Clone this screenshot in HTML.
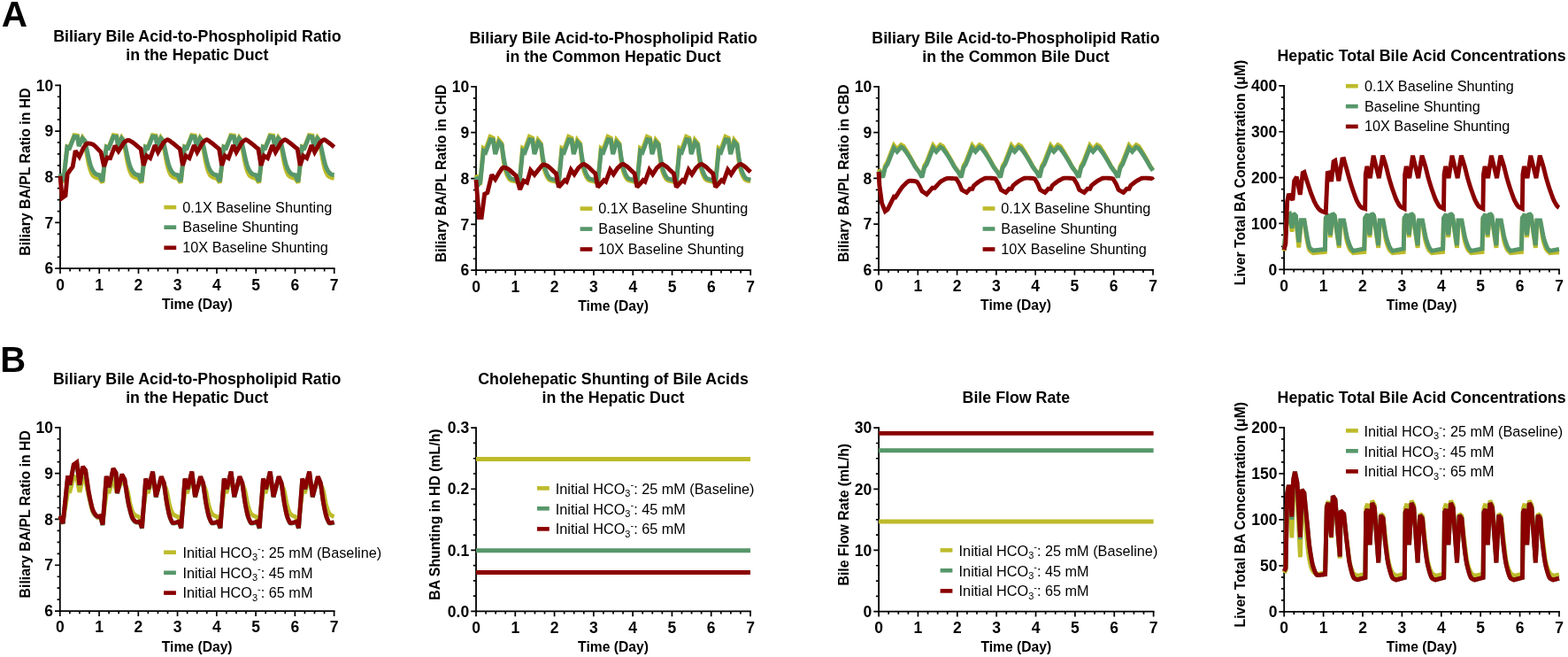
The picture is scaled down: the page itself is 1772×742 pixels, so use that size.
<!DOCTYPE html>
<html><head><meta charset="utf-8"><title>Figure</title>
<style>html,body{margin:0;padding:0;background:#fff;overflow:hidden;}svg{display:block;}</style>
</head><body>
<svg width="1772" height="742" viewBox="0 0 1772 742">
<rect width="1772" height="742" fill="#fff"/>
<text x="1.8" y="30.2" font-family="Liberation Sans, Arial, sans-serif" font-weight="bold" font-size="40.5">A</text>
<text x="0.2" y="419.8" font-family="Liberation Sans, Arial, sans-serif" font-weight="bold" font-size="40">B</text>
<g stroke="#000" stroke-width="1.8" fill="none" stroke-linecap="square">
<path d="M68 96.3 V303.2 H377.7"/>
</g>
<g stroke="#000" stroke-width="1.7" fill="none">
<path d="M68 303.2 v5.8 M79.06 303.2 v3.2 M90.12 303.2 v3.2 M101.18 303.2 v3.2 M112.24 303.2 v5.8 M123.3 303.2 v3.2 M134.36 303.2 v3.2 M145.43 303.2 v3.2 M156.49 303.2 v5.8 M167.55 303.2 v3.2 M178.61 303.2 v3.2 M189.67 303.2 v3.2 M200.73 303.2 v5.8 M211.79 303.2 v3.2 M222.85 303.2 v3.2 M233.91 303.2 v3.2 M244.97 303.2 v5.8 M256.03 303.2 v3.2 M267.09 303.2 v3.2 M278.15 303.2 v3.2 M289.21 303.2 v5.8 M300.27 303.2 v3.2 M311.34 303.2 v3.2 M322.4 303.2 v3.2 M333.46 303.2 v5.8 M344.52 303.2 v3.2 M355.58 303.2 v3.2 M366.64 303.2 v3.2 M377.7 303.2 v5.8 M68 303.2 h-5.8 M68 290.27 h-3.2 M68 277.34 h-3.2 M68 264.41 h-3.2 M68 251.47 h-5.8 M68 238.54 h-3.2 M68 225.61 h-3.2 M68 212.68 h-3.2 M68 199.75 h-5.8 M68 186.82 h-3.2 M68 173.89 h-3.2 M68 160.96 h-3.2 M68 148.03 h-5.8 M68 135.09 h-3.2 M68 122.16 h-3.2 M68 109.23 h-3.2 M68 96.3 h-5.8"/>
</g>
<g fill="none" stroke-width="4.9" stroke-linejoin="miter" stroke-miterlimit="2.2" stroke-linecap="butt">
<path d="M68 197.16 L71.54 206.47 L75.96 165.61 L78.62 166.65 L83.93 152.68 L87.47 153.2 L89.24 164.06 L93.22 155.27 L95.87 159.4 L96.24 161.87 L96.61 164.4 L96.98 166.93 L97.35 169.39 L97.72 171.73 L98.09 173.89 L98.68 177.13 L99.26 180.29 L99.85 183.29 L100.44 186.03 L101.03 188.44 L101.62 190.44 L102.21 192.16 L102.8 193.77 L103.39 195.22 L103.98 196.47 L104.57 197.48 L105.16 198.2 L105.9 198.84 L106.64 199.4 L107.38 199.86 L108.11 200.24 L108.85 200.55 L109.59 200.78 L110.03 200.9 L110.47 200.99 L110.92 201.07 L111.36 201.15 L111.8 201.22 L112.24 201.3 L115.78 206.47 L120.21 165.61 L122.86 166.65 L128.17 152.68 L131.71 153.2 L133.48 164.06 L137.46 155.27 L140.12 159.4 L140.48 161.87 L140.85 164.4 L141.22 166.93 L141.59 169.39 L141.96 171.73 L142.33 173.89 L142.92 177.13 L143.51 180.29 L144.1 183.29 L144.69 186.03 L145.28 188.44 L145.87 190.44 L146.46 192.16 L147.05 193.77 L147.64 195.22 L148.23 196.47 L148.82 197.48 L149.41 198.2 L150.14 198.84 L150.88 199.4 L151.62 199.86 L152.36 200.24 L153.09 200.55 L153.83 200.78 L154.27 200.9 L154.72 200.99 L155.16 201.07 L155.6 201.15 L156.04 201.22 L156.49 201.3 L160.03 206.47 L164.45 165.61 L167.1 166.65 L172.41 152.68 L175.95 153.2 L177.72 164.06 L181.7 155.27 L184.36 159.4 L184.73 161.87 L185.1 164.4 L185.46 166.93 L185.83 169.39 L186.2 171.73 L186.57 173.89 L187.16 177.13 L187.75 180.29 L188.34 183.29 L188.93 186.03 L189.52 188.44 L190.11 190.44 L190.7 192.16 L191.29 193.77 L191.88 195.22 L192.47 196.47 L193.06 197.48 L193.65 198.2 L194.39 198.84 L195.12 199.4 L195.86 199.86 L196.6 200.24 L197.34 200.55 L198.07 200.78 L198.52 200.9 L198.96 200.99 L199.4 201.07 L199.84 201.15 L200.29 201.22 L200.73 201.3 L204.27 206.47 L208.69 165.61 L211.35 166.65 L216.66 152.68 L220.2 153.2 L221.97 164.06 L225.95 155.27 L228.6 159.4 L228.97 161.87 L229.34 164.4 L229.71 166.93 L230.08 169.39 L230.45 171.73 L230.81 173.89 L231.4 177.13 L231.99 180.29 L232.58 183.29 L233.17 186.03 L233.76 188.44 L234.35 190.44 L234.94 192.16 L235.53 193.77 L236.12 195.22 L236.71 196.47 L237.3 197.48 L237.89 198.2 L238.63 198.84 L239.37 199.4 L240.1 199.86 L240.84 200.24 L241.58 200.55 L242.32 200.78 L242.76 200.9 L243.2 200.99 L243.64 201.07 L244.09 201.15 L244.53 201.22 L244.97 201.3 L248.51 206.47 L252.94 165.61 L255.59 166.65 L260.9 152.68 L264.44 153.2 L266.21 164.06 L270.19 155.27 L272.84 159.4 L273.21 161.87 L273.58 164.4 L273.95 166.93 L274.32 169.39 L274.69 171.73 L275.06 173.89 L275.65 177.13 L276.24 180.29 L276.83 183.29 L277.42 186.03 L278.01 188.44 L278.6 190.44 L279.19 192.16 L279.78 193.77 L280.37 195.22 L280.96 196.47 L281.55 197.48 L282.14 198.2 L282.87 198.84 L283.61 199.4 L284.35 199.86 L285.08 200.24 L285.82 200.55 L286.56 200.78 L287 200.9 L287.44 200.99 L287.89 201.07 L288.33 201.15 L288.77 201.22 L289.21 201.3 L292.75 206.47 L297.18 165.61 L299.83 166.65 L305.14 152.68 L308.68 153.2 L310.45 164.06 L314.43 155.27 L317.09 159.4 L317.46 161.87 L317.82 164.4 L318.19 166.93 L318.56 169.39 L318.93 171.73 L319.3 173.89 L319.89 177.13 L320.48 180.29 L321.07 183.29 L321.66 186.03 L322.25 188.44 L322.84 190.44 L323.43 192.16 L324.02 193.77 L324.61 195.22 L325.2 196.47 L325.79 197.48 L326.38 198.2 L327.12 198.84 L327.85 199.4 L328.59 199.86 L329.33 200.24 L330.07 200.55 L330.8 200.78 L331.24 200.9 L331.69 200.99 L332.13 201.07 L332.57 201.15 L333.01 201.22 L333.46 201.3 L337 206.47 L341.42 165.61 L344.08 166.65 L349.38 152.68 L352.92 153.2 L354.69 164.06 L358.68 155.27 L361.33 159.4 L361.7 161.87 L362.07 164.4 L362.44 166.93 L362.8 169.39 L363.17 171.73 L363.54 173.89 L364.13 177.13 L364.72 180.29 L365.31 183.29 L365.9 186.03 L366.49 188.44 L367.08 190.44 L367.67 192.16 L368.26 193.77 L368.85 195.22 L369.44 196.47 L370.03 197.48 L370.62 198.2 L371.36 198.84 L372.1 199.4 L372.83 199.86 L373.57 200.24 L374.31 200.55 L375.05 200.78 L375.49 200.9 L375.93 200.99 L376.37 201.07 L376.82 201.15 L377.26 201.22 L377.7 201.3" stroke="#bdbb2a"/>
<path d="M68 196.13 L71.54 204.92 L75.96 166.13 L78.62 167.16 L83.93 154.23 L87.47 154.75 L89.24 165.09 L93.22 156.3 L95.87 158.89 L96.32 160.88 L96.76 162.88 L97.2 164.88 L97.64 166.87 L98.09 168.84 L98.53 170.78 L99.12 173.44 L99.71 176.18 L100.3 178.89 L100.89 181.47 L101.48 183.8 L102.07 185.78 L102.58 187.3 L103.1 188.72 L103.62 190.03 L104.13 191.21 L104.65 192.21 L105.16 193.03 L105.9 194 L106.64 194.9 L107.38 195.68 L108.11 196.34 L108.85 196.84 L109.59 197.16 L110.03 197.28 L110.47 197.38 L110.92 197.46 L111.36 197.53 L111.8 197.6 L112.24 197.68 L115.78 204.92 L120.21 166.13 L122.86 167.16 L128.17 154.23 L131.71 154.75 L133.48 165.09 L137.46 156.3 L140.12 158.89 L140.56 160.88 L141 162.88 L141.44 164.88 L141.89 166.87 L142.33 168.84 L142.77 170.78 L143.36 173.44 L143.95 176.18 L144.54 178.89 L145.13 181.47 L145.72 183.8 L146.31 185.78 L146.83 187.3 L147.34 188.72 L147.86 190.03 L148.37 191.21 L148.89 192.21 L149.41 193.03 L150.14 194 L150.88 194.9 L151.62 195.68 L152.36 196.34 L153.09 196.84 L153.83 197.16 L154.27 197.28 L154.72 197.38 L155.16 197.46 L155.6 197.53 L156.04 197.6 L156.49 197.68 L160.03 204.92 L164.45 166.13 L167.1 167.16 L172.41 154.23 L175.95 154.75 L177.72 165.09 L181.7 156.3 L184.36 158.89 L184.8 160.88 L185.24 162.88 L185.69 164.88 L186.13 166.87 L186.57 168.84 L187.01 170.78 L187.6 173.44 L188.19 176.18 L188.78 178.89 L189.37 181.47 L189.96 183.8 L190.55 185.78 L191.07 187.3 L191.59 188.72 L192.1 190.03 L192.62 191.21 L193.13 192.21 L193.65 193.03 L194.39 194 L195.12 194.9 L195.86 195.68 L196.6 196.34 L197.34 196.84 L198.07 197.16 L198.52 197.28 L198.96 197.38 L199.4 197.46 L199.84 197.53 L200.29 197.6 L200.73 197.68 L204.27 204.92 L208.69 166.13 L211.35 167.16 L216.66 154.23 L220.2 154.75 L221.97 165.09 L225.95 156.3 L228.6 158.89 L229.04 160.88 L229.49 162.88 L229.93 164.88 L230.37 166.87 L230.81 168.84 L231.26 170.78 L231.85 173.44 L232.44 176.18 L233.03 178.89 L233.62 181.47 L234.21 183.8 L234.8 185.78 L235.31 187.3 L235.83 188.72 L236.34 190.03 L236.86 191.21 L237.38 192.21 L237.89 193.03 L238.63 194 L239.37 194.9 L240.1 195.68 L240.84 196.34 L241.58 196.84 L242.32 197.16 L242.76 197.28 L243.2 197.38 L243.64 197.46 L244.09 197.53 L244.53 197.6 L244.97 197.68 L248.51 204.92 L252.94 166.13 L255.59 167.16 L260.9 154.23 L264.44 154.75 L266.21 165.09 L270.19 156.3 L272.84 158.89 L273.29 160.88 L273.73 162.88 L274.17 164.88 L274.61 166.87 L275.06 168.84 L275.5 170.78 L276.09 173.44 L276.68 176.18 L277.27 178.89 L277.86 181.47 L278.45 183.8 L279.04 185.78 L279.55 187.3 L280.07 188.72 L280.59 190.03 L281.1 191.21 L281.62 192.21 L282.14 193.03 L282.87 194 L283.61 194.9 L284.35 195.68 L285.08 196.34 L285.82 196.84 L286.56 197.16 L287 197.28 L287.44 197.38 L287.89 197.46 L288.33 197.53 L288.77 197.6 L289.21 197.68 L292.75 204.92 L297.18 166.13 L299.83 167.16 L305.14 154.23 L308.68 154.75 L310.45 165.09 L314.43 156.3 L317.09 158.89 L317.53 160.88 L317.97 162.88 L318.41 164.88 L318.86 166.87 L319.3 168.84 L319.74 170.78 L320.33 173.44 L320.92 176.18 L321.51 178.89 L322.1 181.47 L322.69 183.8 L323.28 185.78 L323.8 187.3 L324.31 188.72 L324.83 190.03 L325.35 191.21 L325.86 192.21 L326.38 193.03 L327.12 194 L327.85 194.9 L328.59 195.68 L329.33 196.34 L330.07 196.84 L330.8 197.16 L331.24 197.28 L331.69 197.38 L332.13 197.46 L332.57 197.53 L333.01 197.6 L333.46 197.68 L337 204.92 L341.42 166.13 L344.08 167.16 L349.38 154.23 L352.92 154.75 L354.69 165.09 L358.68 156.3 L361.33 158.89 L361.77 160.88 L362.21 162.88 L362.66 164.88 L363.1 166.87 L363.54 168.84 L363.98 170.78 L364.57 173.44 L365.16 176.18 L365.75 178.89 L366.34 181.47 L366.93 183.8 L367.52 185.78 L368.04 187.3 L368.56 188.72 L369.07 190.03 L369.59 191.21 L370.1 192.21 L370.62 193.03 L371.36 194 L372.1 194.9 L372.83 195.68 L373.57 196.34 L374.31 196.84 L375.05 197.16 L375.49 197.28 L375.93 197.38 L376.37 197.46 L376.82 197.53 L377.26 197.6 L377.7 197.68" stroke="#57976a"/>
<path d="M68 198.72 L70.21 223.54 L73.97 220.96 L76.18 196.65 L78.62 193.03 L82.16 188.37 L85.25 170.27 L89.68 176.99 L94.55 166.65 L95.28 165.76 L96.02 164.75 L96.76 163.74 L97.5 162.85 L98.23 162.23 L98.97 161.99 L99.71 162.01 L100.44 162.06 L101.18 162.15 L101.92 162.25 L102.66 162.37 L103.39 162.51 L105.16 163.21 L106.93 164.53 L108.7 166.25 L110.47 168.17 L112.24 170.1 L114.01 171.82 L117.55 187.85 L121.09 178.03 L124.63 178.54 L129.94 164.58 L133.92 170.78 L140.56 160.44 L141.3 160.05 L142.03 159.6 L142.77 159.15 L143.51 158.75 L144.25 158.48 L144.98 158.37 L145.72 158.46 L146.46 158.72 L147.19 159.08 L147.93 159.52 L148.67 159.99 L149.41 160.44 L150.59 161.2 L151.77 162.1 L152.95 163.09 L154.13 164.11 L155.31 165.14 L156.49 166.13 L159.14 168.2 L162.24 186.82 L165.78 175.96 L169.76 178.54 L175.07 164.06 L178.61 171.82 L184.8 160.96 L185.54 160.37 L186.28 159.69 L187.01 159.02 L187.75 158.43 L188.49 158.01 L189.23 157.85 L189.96 157.98 L190.7 158.3 L191.44 158.78 L192.17 159.33 L192.91 159.9 L193.65 160.44 L194.83 161.28 L196.01 162.19 L197.19 163.16 L198.37 164.16 L199.55 165.16 L200.73 166.13 L203.38 168.2 L206.48 186.82 L210.02 175.96 L214 178.54 L219.31 164.06 L222.85 171.82 L229.04 160.96 L229.78 160.37 L230.52 159.69 L231.26 159.02 L231.99 158.43 L232.73 158.01 L233.47 157.85 L234.21 157.98 L234.94 158.3 L235.68 158.78 L236.42 159.33 L237.16 159.9 L237.89 160.44 L239.07 161.28 L240.25 162.19 L241.43 163.16 L242.61 164.16 L243.79 165.16 L244.97 166.13 L247.63 168.2 L250.72 186.82 L254.26 175.96 L258.24 178.54 L263.55 164.06 L267.09 171.82 L273.29 160.96 L274.02 160.37 L274.76 159.69 L275.5 159.02 L276.24 158.43 L276.97 158.01 L277.71 157.85 L278.45 157.98 L279.19 158.3 L279.92 158.78 L280.66 159.33 L281.4 159.9 L282.14 160.44 L283.32 161.28 L284.5 162.19 L285.67 163.16 L286.85 164.16 L288.03 165.16 L289.21 166.13 L291.87 168.2 L294.97 186.82 L298.51 175.96 L302.49 178.54 L307.8 164.06 L311.34 171.82 L317.53 160.96 L318.27 160.37 L319 159.69 L319.74 159.02 L320.48 158.43 L321.22 158.01 L321.95 157.85 L322.69 157.98 L323.43 158.3 L324.17 158.78 L324.9 159.33 L325.64 159.9 L326.38 160.44 L327.56 161.28 L328.74 162.19 L329.92 163.16 L331.1 164.16 L332.28 165.16 L333.46 166.13 L336.11 168.2 L339.21 186.82 L342.75 175.96 L346.73 178.54 L352.04 164.06 L355.58 171.82 L361.77 160.96 L362.51 160.37 L363.25 159.69 L363.98 159.02 L364.72 158.43 L365.46 158.01 L366.2 157.85 L366.93 157.98 L367.67 158.3 L368.41 158.78 L369.15 159.33 L369.88 159.9 L370.62 160.44 L371.8 161.28 L372.98 162.19 L374.16 163.16 L375.34 164.16 L376.52 165.16 L377.7 166.13" stroke="#8a0000"/>
</g>
<g font-family="Liberation Sans, Arial, sans-serif" font-weight="bold" font-size="17.5" fill="#000">
<text x="68" y="327.5" text-anchor="middle">0</text>
<text x="112.24" y="327.5" text-anchor="middle">1</text>
<text x="156.49" y="327.5" text-anchor="middle">2</text>
<text x="200.73" y="327.5" text-anchor="middle">3</text>
<text x="244.97" y="327.5" text-anchor="middle">4</text>
<text x="289.21" y="327.5" text-anchor="middle">5</text>
<text x="333.46" y="327.5" text-anchor="middle">6</text>
<text x="377.7" y="327.5" text-anchor="middle">7</text>
<text x="60.2" y="309.4" text-anchor="end">6</text>
<text x="60.2" y="257.68" text-anchor="end">7</text>
<text x="60.2" y="205.95" text-anchor="end">8</text>
<text x="60.2" y="154.22" text-anchor="end">9</text>
<text x="60.2" y="102.5" text-anchor="end">10</text>
</g>
<text x="222.85" y="348.6" text-anchor="middle" font-family="Liberation Sans, Arial, sans-serif" font-weight="bold" font-size="15.66">Time (Day)</text>
<text transform="translate(33.8 194.05) rotate(-90)" text-anchor="middle" font-family="Liberation Sans, Arial, sans-serif" font-weight="bold" font-size="15.8">Biliary BA/PL Ratio in HD</text>
<text x="222.85" y="47.4" text-anchor="middle" font-family="Liberation Sans, Arial, sans-serif" font-weight="bold" font-size="17.8">Biliary Bile Acid-to-Phospholipid Ratio</text>
<text x="222.85" y="68.3" text-anchor="middle" font-family="Liberation Sans, Arial, sans-serif" font-weight="bold" font-size="17.8">in the Hepatic Duct</text>
<rect x="185.4" y="231.8" width="13.8" height="4.6" fill="#bdbb2a"/>
<text x="206.3" y="239.75" font-family="Liberation Sans, Arial, sans-serif" font-size="16.25">0.1X Baseline Shunting</text>
<rect x="185.4" y="254.4" width="13.8" height="4.6" fill="#57976a"/>
<text x="206.3" y="262.3" font-family="Liberation Sans, Arial, sans-serif" font-size="16.25">Baseline Shunting</text>
<rect x="185.4" y="277.5" width="13.8" height="4.6" fill="#8a0000"/>
<text x="206.3" y="285.2" font-family="Liberation Sans, Arial, sans-serif" font-size="16.25">10X Baseline Shunting</text>
<g stroke="#000" stroke-width="1.8" fill="none" stroke-linecap="square">
<path d="M538 97.9 V305.2 H848.2"/>
</g>
<g stroke="#000" stroke-width="1.7" fill="none">
<path d="M538 305.2 v5.8 M549.08 305.2 v3.2 M560.16 305.2 v3.2 M571.24 305.2 v3.2 M582.31 305.2 v5.8 M593.39 305.2 v3.2 M604.47 305.2 v3.2 M615.55 305.2 v3.2 M626.63 305.2 v5.8 M637.71 305.2 v3.2 M648.79 305.2 v3.2 M659.86 305.2 v3.2 M670.94 305.2 v5.8 M682.02 305.2 v3.2 M693.1 305.2 v3.2 M704.18 305.2 v3.2 M715.26 305.2 v5.8 M726.34 305.2 v3.2 M737.41 305.2 v3.2 M748.49 305.2 v3.2 M759.57 305.2 v5.8 M770.65 305.2 v3.2 M781.73 305.2 v3.2 M792.81 305.2 v3.2 M803.89 305.2 v5.8 M814.96 305.2 v3.2 M826.04 305.2 v3.2 M837.12 305.2 v3.2 M848.2 305.2 v5.8 M538 305.2 h-5.8 M538 292.24 h-3.2 M538 279.29 h-3.2 M538 266.33 h-3.2 M538 253.38 h-5.8 M538 240.42 h-3.2 M538 227.46 h-3.2 M538 214.51 h-3.2 M538 201.55 h-5.8 M538 188.59 h-3.2 M538 175.64 h-3.2 M538 162.68 h-3.2 M538 149.72 h-5.8 M538 136.77 h-3.2 M538 123.81 h-3.2 M538 110.86 h-3.2 M538 97.9 h-5.8"/>
</g>
<g fill="none" stroke-width="4.9" stroke-linejoin="miter" stroke-miterlimit="2.2" stroke-linecap="butt">
<path d="M538 197.4 L541.55 206.73 L542.74 206.73 L546.2 167.35 L548.86 168.9 L553.95 154.39 L557.32 155.94 L559.71 172.53 L563.7 158.02 L567.03 162.16 L567.36 165.41 L567.69 168.82 L568.02 172.23 L568.36 175.48 L568.69 178.39 L569.02 180.82 L569.54 184.01 L570.05 186.96 L570.57 189.61 L571.09 191.91 L571.61 193.84 L572.12 195.33 L573.01 197.41 L573.89 199.26 L574.78 200.86 L575.67 202.15 L576.55 203.08 L577.44 203.62 L578.25 203.88 L579.06 204.08 L579.88 204.24 L580.69 204.37 L581.5 204.5 L582.31 204.66 L587.06 206.73 L590.51 167.35 L593.17 168.9 L598.27 154.39 L601.64 155.94 L604.03 172.53 L608.02 158.02 L611.34 162.16 L611.67 165.41 L612 168.82 L612.34 172.23 L612.67 175.48 L613 178.39 L613.33 180.82 L613.85 184.01 L614.37 186.96 L614.89 189.61 L615.4 191.91 L615.92 193.84 L616.44 195.33 L617.32 197.41 L618.21 199.26 L619.1 200.86 L619.98 202.15 L620.87 203.08 L621.75 203.62 L622.57 203.88 L623.38 204.08 L624.19 204.24 L625 204.37 L625.82 204.5 L626.63 204.66 L631.37 206.73 L634.83 167.35 L637.49 168.9 L642.58 154.39 L645.95 155.94 L648.34 172.53 L652.33 158.02 L655.65 162.16 L655.99 165.41 L656.32 168.82 L656.65 172.23 L656.98 175.48 L657.32 178.39 L657.65 180.82 L658.17 184.01 L658.68 186.96 L659.2 189.61 L659.72 191.91 L660.23 193.84 L660.75 195.33 L661.64 197.41 L662.52 199.26 L663.41 200.86 L664.3 202.15 L665.18 203.08 L666.07 203.62 L666.88 203.88 L667.69 204.08 L668.51 204.24 L669.32 204.37 L670.13 204.5 L670.94 204.66 L675.68 206.73 L679.14 167.35 L681.8 168.9 L686.9 154.39 L690.26 155.94 L692.66 172.53 L696.65 158.02 L699.97 162.16 L700.3 165.41 L700.63 168.82 L700.97 172.23 L701.3 175.48 L701.63 178.39 L701.96 180.82 L702.48 184.01 L703 186.96 L703.51 189.61 L704.03 191.91 L704.55 193.84 L705.06 195.33 L705.95 197.41 L706.84 199.26 L707.72 200.86 L708.61 202.15 L709.5 203.08 L710.38 203.62 L711.2 203.88 L712.01 204.08 L712.82 204.24 L713.63 204.37 L714.44 204.5 L715.26 204.66 L720 206.73 L723.46 167.35 L726.11 168.9 L731.21 154.39 L734.58 155.94 L736.97 172.53 L740.96 158.02 L744.28 162.16 L744.62 165.41 L744.95 168.82 L745.28 172.23 L745.61 175.48 L745.94 178.39 L746.28 180.82 L746.79 184.01 L747.31 186.96 L747.83 189.61 L748.35 191.91 L748.86 193.84 L749.38 195.33 L750.27 197.41 L751.15 199.26 L752.04 200.86 L752.92 202.15 L753.81 203.08 L754.7 203.62 L755.51 203.88 L756.32 204.08 L757.13 204.24 L757.95 204.37 L758.76 204.5 L759.57 204.66 L764.31 206.73 L767.77 167.35 L770.43 168.9 L775.52 154.39 L778.89 155.94 L781.29 172.53 L785.27 158.02 L788.6 162.16 L788.93 165.41 L789.26 168.82 L789.59 172.23 L789.93 175.48 L790.26 178.39 L790.59 180.82 L791.11 184.01 L791.63 186.96 L792.14 189.61 L792.66 191.91 L793.18 193.84 L793.69 195.33 L794.58 197.41 L795.47 199.26 L796.35 200.86 L797.24 202.15 L798.12 203.08 L799.01 203.62 L799.82 203.88 L800.64 204.08 L801.45 204.24 L802.26 204.37 L803.07 204.5 L803.89 204.66 L808.63 206.73 L812.08 167.35 L814.74 168.9 L819.84 154.39 L823.21 155.94 L825.6 172.53 L829.59 158.02 L832.91 162.16 L833.24 165.41 L833.58 168.82 L833.91 172.23 L834.24 175.48 L834.57 178.39 L834.91 180.82 L835.42 184.01 L835.94 186.96 L836.46 189.61 L836.97 191.91 L837.49 193.84 L838.01 195.33 L838.89 197.41 L839.78 199.26 L840.67 200.86 L841.55 202.15 L842.44 203.08 L843.33 203.62 L844.14 203.88 L844.95 204.08 L845.76 204.24 L846.58 204.37 L847.39 204.5 L848.2 204.66" stroke="#bdbb2a"/>
<path d="M538 199.48 L541.55 207.25 L542.74 205.7 L546.42 170.46 L548.86 172.01 L554.26 157.5 L557.32 158.02 L559.71 174.08 L563.97 160.61 L567.03 163.72 L567.43 166.47 L567.84 169.31 L568.24 172.15 L568.65 174.9 L569.06 177.48 L569.46 179.78 L569.98 182.5 L570.5 185.12 L571.01 187.59 L571.53 189.82 L572.05 191.73 L572.57 193.26 L573.38 195.24 L574.19 197.04 L575 198.62 L575.81 199.92 L576.63 200.92 L577.44 201.55 L578.25 201.93 L579.06 202.23 L579.88 202.46 L580.69 202.67 L581.5 202.87 L582.31 203.1 L587.06 205.7 L590.73 170.46 L593.17 172.01 L598.58 157.5 L601.64 158.02 L604.03 174.08 L608.28 160.61 L611.34 163.72 L611.75 166.47 L612.15 169.31 L612.56 172.15 L612.97 174.9 L613.37 177.48 L613.78 179.78 L614.29 182.5 L614.81 185.12 L615.33 187.59 L615.85 189.82 L616.36 191.73 L616.88 193.26 L617.69 195.24 L618.5 197.04 L619.32 198.62 L620.13 199.92 L620.94 200.92 L621.75 201.55 L622.57 201.93 L623.38 202.23 L624.19 202.46 L625 202.67 L625.82 202.87 L626.63 203.1 L631.37 205.7 L635.05 170.46 L637.49 172.01 L642.89 157.5 L645.95 158.02 L648.34 174.08 L652.6 160.61 L655.65 163.72 L656.06 166.47 L656.47 169.31 L656.87 172.15 L657.28 174.9 L657.69 177.48 L658.09 179.78 L658.61 182.5 L659.13 185.12 L659.64 187.59 L660.16 189.82 L660.68 191.73 L661.19 193.26 L662.01 195.24 L662.82 197.04 L663.63 198.62 L664.44 199.92 L665.26 200.92 L666.07 201.55 L666.88 201.93 L667.69 202.23 L668.51 202.46 L669.32 202.67 L670.13 202.87 L670.94 203.1 L675.68 205.7 L679.36 170.46 L681.8 172.01 L687.21 157.5 L690.26 158.02 L692.66 174.08 L696.91 160.61 L699.97 163.72 L700.37 166.47 L700.78 169.31 L701.19 172.15 L701.59 174.9 L702 177.48 L702.41 179.78 L702.92 182.5 L703.44 185.12 L703.96 187.59 L704.47 189.82 L704.99 191.73 L705.51 193.26 L706.32 195.24 L707.13 197.04 L707.95 198.62 L708.76 199.92 L709.57 200.92 L710.38 201.55 L711.2 201.93 L712.01 202.23 L712.82 202.46 L713.63 202.67 L714.44 202.87 L715.26 203.1 L720 205.7 L723.68 170.46 L726.11 172.01 L731.52 157.5 L734.58 158.02 L736.97 174.08 L741.23 160.61 L744.28 163.72 L744.69 166.47 L745.1 169.31 L745.5 172.15 L745.91 174.9 L746.31 177.48 L746.72 179.78 L747.24 182.5 L747.75 185.12 L748.27 187.59 L748.79 189.82 L749.31 191.73 L749.82 193.26 L750.63 195.24 L751.45 197.04 L752.26 198.62 L753.07 199.92 L753.88 200.92 L754.7 201.55 L755.51 201.93 L756.32 202.23 L757.13 202.46 L757.95 202.67 L758.76 202.87 L759.57 203.1 L764.31 205.7 L767.99 170.46 L770.43 172.01 L775.83 157.5 L778.89 158.02 L781.29 174.08 L785.54 160.61 L788.6 163.72 L789 166.47 L789.41 169.31 L789.82 172.15 L790.22 174.9 L790.63 177.48 L791.03 179.78 L791.55 182.5 L792.07 185.12 L792.59 187.59 L793.1 189.82 L793.62 191.73 L794.14 193.26 L794.95 195.24 L795.76 197.04 L796.57 198.62 L797.39 199.92 L798.2 200.92 L799.01 201.55 L799.82 201.93 L800.64 202.23 L801.45 202.46 L802.26 202.67 L803.07 202.87 L803.89 203.1 L808.63 205.7 L812.31 170.46 L814.74 172.01 L820.15 157.5 L823.21 158.02 L825.6 174.08 L829.85 160.61 L832.91 163.72 L833.32 166.47 L833.72 169.31 L834.13 172.15 L834.54 174.9 L834.94 177.48 L835.35 179.78 L835.87 182.5 L836.38 185.12 L836.9 187.59 L837.42 189.82 L837.93 191.73 L838.45 193.26 L839.26 195.24 L840.08 197.04 L840.89 198.62 L841.7 199.92 L842.51 200.92 L843.33 201.55 L844.14 201.93 L844.95 202.23 L845.76 202.46 L846.58 202.67 L847.39 202.87 L848.2 203.1" stroke="#57976a"/>
<path d="M538 203.1 L541.41 245.6 L544.2 245.6 L547.62 219.17 L550.85 217.62 L555.73 197.4 L559.71 202.59 L564.15 194.81 L564.96 193.73 L565.77 192.49 L566.58 191.25 L567.4 190.17 L568.21 189.4 L569.02 189.11 L569.46 189.13 L569.91 189.19 L570.35 189.28 L570.79 189.39 L571.24 189.51 L571.68 189.63 L573.6 190.45 L575.52 191.73 L577.44 193.33 L579.36 195.09 L581.28 196.84 L583.2 198.44 L587.63 213.99 L591.84 204.14 L595.61 206.21 L599.6 192.22 L604.03 197.4 L608.9 191.19 L609.79 190.2 L610.68 189.07 L611.56 187.95 L612.45 186.96 L613.33 186.27 L614.22 186 L614.66 186.02 L615.11 186.08 L615.55 186.17 L615.99 186.28 L616.44 186.4 L616.88 186.52 L618.5 187.23 L620.13 188.37 L621.75 189.78 L623.38 191.33 L625 192.88 L626.63 194.29 L628.4 195.85 L631.37 211.4 L635.05 207.25 L638.15 203.62 L640.37 205.18 L645.24 191.7 L649.01 196.89 L653.66 189.63 L654.62 188.84 L655.58 187.94 L656.54 187.04 L657.5 186.25 L658.46 185.7 L659.42 185.48 L659.86 185.53 L660.31 185.65 L660.75 185.83 L661.19 186.05 L661.64 186.29 L662.08 186.52 L663.56 187.43 L665.03 188.62 L666.51 190 L667.99 191.46 L669.47 192.92 L670.94 194.29 L672.72 195.85 L675.68 211.4 L679.36 207.25 L682.46 203.62 L684.68 205.18 L689.55 191.7 L693.32 196.89 L697.97 189.63 L698.93 188.84 L699.89 187.94 L700.86 187.04 L701.82 186.25 L702.78 185.7 L703.74 185.48 L704.18 185.53 L704.62 185.65 L705.06 185.83 L705.51 186.05 L705.95 186.29 L706.39 186.52 L707.87 187.43 L709.35 188.62 L710.83 190 L712.3 191.46 L713.78 192.92 L715.26 194.29 L717.03 195.85 L720 211.4 L723.68 207.25 L726.78 203.62 L728.99 205.18 L733.87 191.7 L737.64 196.89 L742.29 189.63 L743.25 188.84 L744.21 187.94 L745.17 187.04 L746.13 186.25 L747.09 185.7 L748.05 185.48 L748.49 185.53 L748.94 185.65 L749.38 185.83 L749.82 186.05 L750.27 186.29 L750.71 186.52 L752.19 187.43 L753.66 188.62 L755.14 190 L756.62 191.46 L758.09 192.92 L759.57 194.29 L761.34 195.85 L764.31 211.4 L767.99 207.25 L771.09 203.62 L773.31 205.18 L778.18 191.7 L781.95 196.89 L786.6 189.63 L787.56 188.84 L788.52 187.94 L789.48 187.04 L790.44 186.25 L791.4 185.7 L792.36 185.48 L792.81 185.53 L793.25 185.65 L793.69 185.83 L794.14 186.05 L794.58 186.29 L795.02 186.52 L796.5 187.43 L797.98 188.62 L799.45 190 L800.93 191.46 L802.41 192.92 L803.89 194.29 L805.66 195.85 L808.63 211.4 L812.31 207.25 L815.41 203.62 L817.62 205.18 L822.5 191.7 L826.26 196.89 L830.92 189.63 L831.88 188.84 L832.84 187.94 L833.8 187.04 L834.76 186.25 L835.72 185.7 L836.68 185.48 L837.12 185.53 L837.56 185.65 L838.01 185.83 L838.45 186.05 L838.89 186.29 L839.34 186.52 L840.81 187.43 L842.29 188.62 L843.77 190 L845.25 191.46 L846.72 192.92 L848.2 194.29" stroke="#8a0000"/>
</g>
<g font-family="Liberation Sans, Arial, sans-serif" font-weight="bold" font-size="17.5" fill="#000">
<text x="538" y="329.5" text-anchor="middle">0</text>
<text x="582.31" y="329.5" text-anchor="middle">1</text>
<text x="626.63" y="329.5" text-anchor="middle">2</text>
<text x="670.94" y="329.5" text-anchor="middle">3</text>
<text x="715.26" y="329.5" text-anchor="middle">4</text>
<text x="759.57" y="329.5" text-anchor="middle">5</text>
<text x="803.89" y="329.5" text-anchor="middle">6</text>
<text x="848.2" y="329.5" text-anchor="middle">7</text>
<text x="530.2" y="311.4" text-anchor="end">6</text>
<text x="530.2" y="259.57" text-anchor="end">7</text>
<text x="530.2" y="207.75" text-anchor="end">8</text>
<text x="530.2" y="155.92" text-anchor="end">9</text>
<text x="530.2" y="104.1" text-anchor="end">10</text>
</g>
<text x="693.1" y="350.6" text-anchor="middle" font-family="Liberation Sans, Arial, sans-serif" font-weight="bold" font-size="15.66">Time (Day)</text>
<text transform="translate(503.8 195.85) rotate(-90)" text-anchor="middle" font-family="Liberation Sans, Arial, sans-serif" font-weight="bold" font-size="15.8">Biliary BA/PL Ratio in CHD</text>
<text x="693.1" y="49" text-anchor="middle" font-family="Liberation Sans, Arial, sans-serif" font-weight="bold" font-size="17.8">Biliary Bile Acid-to-Phospholipid Ratio</text>
<text x="693.1" y="69.9" text-anchor="middle" font-family="Liberation Sans, Arial, sans-serif" font-weight="bold" font-size="17.8">in the Common Hepatic Duct</text>
<rect x="655.6" y="233.3" width="13.8" height="4.6" fill="#bdbb2a"/>
<text x="676.3" y="240.9" font-family="Liberation Sans, Arial, sans-serif" font-size="16.25">0.1X Baseline Shunting</text>
<rect x="655.6" y="256.3" width="13.8" height="4.6" fill="#57976a"/>
<text x="676.3" y="263.5" font-family="Liberation Sans, Arial, sans-serif" font-size="16.25">Baseline Shunting</text>
<rect x="655.6" y="279.2" width="13.8" height="4.6" fill="#8a0000"/>
<text x="676.3" y="286.6" font-family="Liberation Sans, Arial, sans-serif" font-size="16.25">10X Baseline Shunting</text>
<g stroke="#000" stroke-width="1.8" fill="none" stroke-linecap="square">
<path d="M993 97.8 V304.9 H1303"/>
</g>
<g stroke="#000" stroke-width="1.7" fill="none">
<path d="M993 304.9 v5.8 M1004.07 304.9 v3.2 M1015.14 304.9 v3.2 M1026.21 304.9 v3.2 M1037.29 304.9 v5.8 M1048.36 304.9 v3.2 M1059.43 304.9 v3.2 M1070.5 304.9 v3.2 M1081.57 304.9 v5.8 M1092.64 304.9 v3.2 M1103.71 304.9 v3.2 M1114.79 304.9 v3.2 M1125.86 304.9 v5.8 M1136.93 304.9 v3.2 M1148 304.9 v3.2 M1159.07 304.9 v3.2 M1170.14 304.9 v5.8 M1181.21 304.9 v3.2 M1192.29 304.9 v3.2 M1203.36 304.9 v3.2 M1214.43 304.9 v5.8 M1225.5 304.9 v3.2 M1236.57 304.9 v3.2 M1247.64 304.9 v3.2 M1258.71 304.9 v5.8 M1269.79 304.9 v3.2 M1280.86 304.9 v3.2 M1291.93 304.9 v3.2 M1303 304.9 v5.8 M993 304.9 h-5.8 M993 291.96 h-3.2 M993 279.01 h-3.2 M993 266.07 h-3.2 M993 253.12 h-5.8 M993 240.18 h-3.2 M993 227.24 h-3.2 M993 214.29 h-3.2 M993 201.35 h-5.8 M993 188.41 h-3.2 M993 175.46 h-3.2 M993 162.52 h-3.2 M993 149.57 h-5.8 M993 136.63 h-3.2 M993 123.69 h-3.2 M993 110.74 h-3.2 M993 97.8 h-5.8"/>
</g>
<g fill="none" stroke-width="4.9" stroke-linejoin="miter" stroke-miterlimit="2.2" stroke-linecap="butt">
<path d="M993 191 L994.77 194.1 L997.61 199.28 L1000.31 187.37 L1003.01 182.71 L1010.18 164.07 L1013.81 168.73 L1018.38 163.55 L1021.08 165.11 L1021.83 166.31 L1022.58 167.51 L1023.34 168.7 L1024.09 169.9 L1024.84 171.12 L1025.59 172.36 L1026.35 173.61 L1027.1 174.89 L1027.85 176.17 L1028.61 177.48 L1029.36 178.79 L1030.11 180.12 L1030.86 181.5 L1031.62 182.93 L1032.37 184.38 L1033.12 185.81 L1033.88 187.16 L1034.63 188.41 L1035.39 189.55 L1036.15 190.61 L1036.91 191.63 L1037.67 192.62 L1038.43 193.61 L1039.19 194.62 L1041.89 199.28 L1044.59 187.37 L1047.29 182.71 L1054.47 164.07 L1058.1 168.73 L1062.66 163.55 L1065.36 165.11 L1066.12 166.31 L1066.87 167.51 L1067.62 168.7 L1068.37 169.9 L1069.13 171.12 L1069.88 172.36 L1070.63 173.61 L1071.39 174.89 L1072.14 176.17 L1072.89 177.48 L1073.64 178.79 L1074.4 180.12 L1075.15 181.5 L1075.9 182.93 L1076.66 184.38 L1077.41 185.81 L1078.16 187.16 L1078.91 188.41 L1079.67 189.55 L1080.43 190.61 L1081.19 191.63 L1081.96 192.62 L1082.72 193.61 L1083.48 194.62 L1086.18 199.28 L1088.88 187.37 L1091.58 182.71 L1098.75 164.07 L1102.39 168.73 L1106.95 163.55 L1109.65 165.11 L1110.4 166.31 L1111.15 167.51 L1111.91 168.7 L1112.66 169.9 L1113.41 171.12 L1114.17 172.36 L1114.92 173.61 L1115.67 174.89 L1116.42 176.17 L1117.18 177.48 L1117.93 178.79 L1118.68 180.12 L1119.44 181.5 L1120.19 182.93 L1120.94 184.38 L1121.69 185.81 L1122.45 187.16 L1123.2 188.41 L1123.96 189.55 L1124.72 190.61 L1125.48 191.63 L1126.24 192.62 L1127 193.61 L1127.76 194.62 L1130.46 199.28 L1133.16 187.37 L1135.87 182.71 L1143.04 164.07 L1146.67 168.73 L1151.23 163.55 L1153.93 165.11 L1154.69 166.31 L1155.44 167.51 L1156.19 168.7 L1156.95 169.9 L1157.7 171.12 L1158.45 172.36 L1159.2 173.61 L1159.96 174.89 L1160.71 176.17 L1161.46 177.48 L1162.22 178.79 L1162.97 180.12 L1163.72 181.5 L1164.47 182.93 L1165.23 184.38 L1165.98 185.81 L1166.73 187.16 L1167.49 188.41 L1168.25 189.55 L1169.01 190.61 L1169.77 191.63 L1170.53 192.62 L1171.29 193.61 L1172.05 194.62 L1174.75 199.28 L1177.45 187.37 L1180.15 182.71 L1187.33 164.07 L1190.96 168.73 L1195.52 163.55 L1198.22 165.11 L1198.97 166.31 L1199.73 167.51 L1200.48 168.7 L1201.23 169.9 L1201.98 171.12 L1202.74 172.36 L1203.49 173.61 L1204.24 174.89 L1205 176.17 L1205.75 177.48 L1206.5 178.79 L1207.25 180.12 L1208.01 181.5 L1208.76 182.93 L1209.51 184.38 L1210.27 185.81 L1211.02 187.16 L1211.77 188.41 L1212.53 189.55 L1213.29 190.61 L1214.05 191.63 L1214.81 192.62 L1215.57 193.61 L1216.33 194.62 L1219.03 199.28 L1221.74 187.37 L1224.44 182.71 L1231.61 164.07 L1235.24 168.73 L1239.8 163.55 L1242.51 165.11 L1243.26 166.31 L1244.01 167.51 L1244.76 168.7 L1245.52 169.9 L1246.27 171.12 L1247.02 172.36 L1247.78 173.61 L1248.53 174.89 L1249.28 176.17 L1250.03 177.48 L1250.79 178.79 L1251.54 180.12 L1252.29 181.5 L1253.05 182.93 L1253.8 184.38 L1254.55 185.81 L1255.3 187.16 L1256.06 188.41 L1256.82 189.55 L1257.58 190.61 L1258.34 191.63 L1259.1 192.62 L1259.86 193.61 L1260.62 194.62 L1263.32 199.28 L1266.02 187.37 L1268.72 182.71 L1275.9 164.07 L1279.53 168.73 L1284.09 163.55 L1286.79 165.11 L1287.54 166.31 L1288.3 167.51 L1289.05 168.7 L1289.8 169.9 L1290.56 171.12 L1291.31 172.36 L1292.06 173.61 L1292.81 174.89 L1293.57 176.17 L1294.32 177.48 L1295.07 178.79 L1295.83 180.12 L1296.58 181.5 L1297.33 182.93 L1298.08 184.38 L1298.84 185.81 L1299.59 187.16 L1300.34 188.41 L1301.1 189.55 L1301.86 190.61 L1302.62 191.63 L1303 192.12" stroke="#bdbb2a"/>
<path d="M993 193.07 L994.77 195.14 L997.61 200.31 L1000.31 189.44 L1003.01 185.3 L1010.18 167.18 L1013.81 171.32 L1018.38 166.14 L1021.08 167.7 L1021.83 168.72 L1022.58 169.73 L1023.34 170.74 L1024.09 171.77 L1024.84 172.82 L1025.59 173.91 L1026.35 175.05 L1027.1 176.22 L1027.85 177.43 L1028.61 178.66 L1029.36 179.91 L1030.11 181.16 L1030.86 182.44 L1031.62 183.77 L1032.37 185.12 L1033.12 186.45 L1033.88 187.73 L1034.63 188.92 L1035.39 190.04 L1036.15 191.1 L1036.91 192.12 L1037.67 193.12 L1038.43 194.12 L1039.19 195.14 L1041.89 200.31 L1044.59 189.44 L1047.29 185.3 L1054.47 167.18 L1058.1 171.32 L1062.66 166.14 L1065.36 167.7 L1066.12 168.72 L1066.87 169.73 L1067.62 170.74 L1068.37 171.77 L1069.13 172.82 L1069.88 173.91 L1070.63 175.05 L1071.39 176.22 L1072.14 177.43 L1072.89 178.66 L1073.64 179.91 L1074.4 181.16 L1075.15 182.44 L1075.9 183.77 L1076.66 185.12 L1077.41 186.45 L1078.16 187.73 L1078.91 188.92 L1079.67 190.04 L1080.43 191.1 L1081.19 192.12 L1081.96 193.12 L1082.72 194.12 L1083.48 195.14 L1086.18 200.31 L1088.88 189.44 L1091.58 185.3 L1098.75 167.18 L1102.39 171.32 L1106.95 166.14 L1109.65 167.7 L1110.4 168.72 L1111.15 169.73 L1111.91 170.74 L1112.66 171.77 L1113.41 172.82 L1114.17 173.91 L1114.92 175.05 L1115.67 176.22 L1116.42 177.43 L1117.18 178.66 L1117.93 179.91 L1118.68 181.16 L1119.44 182.44 L1120.19 183.77 L1120.94 185.12 L1121.69 186.45 L1122.45 187.73 L1123.2 188.92 L1123.96 190.04 L1124.72 191.1 L1125.48 192.12 L1126.24 193.12 L1127 194.12 L1127.76 195.14 L1130.46 200.31 L1133.16 189.44 L1135.87 185.3 L1143.04 167.18 L1146.67 171.32 L1151.23 166.14 L1153.93 167.7 L1154.69 168.72 L1155.44 169.73 L1156.19 170.74 L1156.95 171.77 L1157.7 172.82 L1158.45 173.91 L1159.2 175.05 L1159.96 176.22 L1160.71 177.43 L1161.46 178.66 L1162.22 179.91 L1162.97 181.16 L1163.72 182.44 L1164.47 183.77 L1165.23 185.12 L1165.98 186.45 L1166.73 187.73 L1167.49 188.92 L1168.25 190.04 L1169.01 191.1 L1169.77 192.12 L1170.53 193.12 L1171.29 194.12 L1172.05 195.14 L1174.75 200.31 L1177.45 189.44 L1180.15 185.3 L1187.33 167.18 L1190.96 171.32 L1195.52 166.14 L1198.22 167.7 L1198.97 168.72 L1199.73 169.73 L1200.48 170.74 L1201.23 171.77 L1201.98 172.82 L1202.74 173.91 L1203.49 175.05 L1204.24 176.22 L1205 177.43 L1205.75 178.66 L1206.5 179.91 L1207.25 181.16 L1208.01 182.44 L1208.76 183.77 L1209.51 185.12 L1210.27 186.45 L1211.02 187.73 L1211.77 188.92 L1212.53 190.04 L1213.29 191.1 L1214.05 192.12 L1214.81 193.12 L1215.57 194.12 L1216.33 195.14 L1219.03 200.31 L1221.74 189.44 L1224.44 185.3 L1231.61 167.18 L1235.24 171.32 L1239.8 166.14 L1242.51 167.7 L1243.26 168.72 L1244.01 169.73 L1244.76 170.74 L1245.52 171.77 L1246.27 172.82 L1247.02 173.91 L1247.78 175.05 L1248.53 176.22 L1249.28 177.43 L1250.03 178.66 L1250.79 179.91 L1251.54 181.16 L1252.29 182.44 L1253.05 183.77 L1253.8 185.12 L1254.55 186.45 L1255.3 187.73 L1256.06 188.92 L1256.82 190.04 L1257.58 191.1 L1258.34 192.12 L1259.1 193.12 L1259.86 194.12 L1260.62 195.14 L1263.32 200.31 L1266.02 189.44 L1268.72 185.3 L1275.9 167.18 L1279.53 171.32 L1284.09 166.14 L1286.79 167.7 L1287.54 168.72 L1288.3 169.73 L1289.05 170.74 L1289.8 171.77 L1290.56 172.82 L1291.31 173.91 L1292.06 175.05 L1292.81 176.22 L1293.57 177.43 L1294.32 178.66 L1295.07 179.91 L1295.83 181.16 L1296.58 182.44 L1297.33 183.77 L1298.08 185.12 L1298.84 186.45 L1299.59 187.73 L1300.34 188.92 L1301.1 190.04 L1301.86 191.1 L1302.62 192.12 L1303 192.62" stroke="#57976a"/>
<path d="M993 194.1 L993.89 209.63 L996.54 229.31 L1000.31 238.63 L1003.05 236.56 L1010.27 222.06 L1012.04 222.58 L1013.56 220.32 L1015.07 217.95 L1016.58 215.59 L1018.1 213.33 L1019.61 211.31 L1021.12 209.63 L1022.34 208.41 L1023.56 207.18 L1024.78 206.03 L1025.99 205.08 L1027.21 204.44 L1028.43 204.2 L1029.61 204.22 L1030.79 204.28 L1031.97 204.39 L1033.15 204.54 L1034.33 204.73 L1035.51 204.97 L1036.1 205.3 L1036.7 205.95 L1037.29 206.82 L1037.88 207.79 L1038.47 208.77 L1039.06 209.63 L1041.94 215.85 L1047.29 219.47 L1053.67 212.22 L1056.33 212.22 L1057.21 211.19 L1058.42 209.95 L1059.64 208.64 L1060.85 207.33 L1062.06 206.09 L1063.27 205.02 L1064.48 204.2 L1065.68 203.52 L1066.88 202.86 L1068.09 202.27 L1069.29 201.79 L1070.49 201.47 L1071.7 201.35 L1073.19 201.38 L1074.69 201.45 L1076.19 201.54 L1077.69 201.66 L1079.19 201.77 L1080.69 201.87 L1084.23 207.82 L1086.89 214.29 L1089.54 215.85 L1092.42 217.4 L1096.19 213.26 L1098.84 213.26 L1100.61 209.63 L1101.8 208.69 L1102.98 207.71 L1104.16 206.72 L1105.34 205.78 L1106.52 204.92 L1107.7 204.2 L1108.92 203.5 L1110.14 202.8 L1111.35 202.14 L1112.57 201.6 L1113.79 201.23 L1115.01 201.09 L1116.2 201.1 L1117.4 201.12 L1118.59 201.16 L1119.79 201.21 L1120.99 201.28 L1122.18 201.35 L1122.65 201.4 L1123.11 201.47 L1123.58 201.57 L1124.04 201.67 L1124.51 201.77 L1124.97 201.87 L1128.51 207.82 L1131.17 214.29 L1133.83 215.85 L1136.71 217.4 L1140.47 213.26 L1143.13 213.26 L1144.9 209.63 L1146.08 208.69 L1147.26 207.71 L1148.44 206.72 L1149.62 205.78 L1150.8 204.92 L1151.99 204.2 L1153.2 203.5 L1154.42 202.8 L1155.64 202.14 L1156.86 201.6 L1158.08 201.23 L1159.29 201.09 L1160.49 201.1 L1161.68 201.12 L1162.88 201.16 L1164.08 201.21 L1165.27 201.28 L1166.47 201.35 L1166.93 201.4 L1167.4 201.47 L1167.86 201.57 L1168.33 201.67 L1168.79 201.77 L1169.26 201.87 L1172.8 207.82 L1175.46 214.29 L1178.11 215.85 L1180.99 217.4 L1184.76 213.26 L1187.41 213.26 L1189.19 209.63 L1190.37 208.69 L1191.55 207.71 L1192.73 206.72 L1193.91 205.78 L1195.09 204.92 L1196.27 204.2 L1197.49 203.5 L1198.71 202.8 L1199.92 202.14 L1201.14 201.6 L1202.36 201.23 L1203.58 201.09 L1204.77 201.1 L1205.97 201.12 L1207.17 201.16 L1208.36 201.21 L1209.56 201.28 L1210.75 201.35 L1211.22 201.4 L1211.68 201.47 L1212.15 201.57 L1212.61 201.67 L1213.08 201.77 L1213.54 201.87 L1217.09 207.82 L1219.74 214.29 L1222.4 215.85 L1225.28 217.4 L1229.04 213.26 L1231.7 213.26 L1233.47 209.63 L1234.65 208.69 L1235.83 207.71 L1237.01 206.72 L1238.2 205.78 L1239.38 204.92 L1240.56 204.2 L1241.78 203.5 L1242.99 202.8 L1244.21 202.14 L1245.43 201.6 L1246.65 201.23 L1247.86 201.09 L1249.06 201.1 L1250.26 201.12 L1251.45 201.16 L1252.65 201.21 L1253.84 201.28 L1255.04 201.35 L1255.5 201.4 L1255.97 201.47 L1256.43 201.57 L1256.9 201.67 L1257.36 201.77 L1257.83 201.87 L1261.37 207.82 L1264.03 214.29 L1266.69 215.85 L1269.56 217.4 L1273.33 213.26 L1275.99 213.26 L1277.76 209.63 L1278.94 208.69 L1280.12 207.71 L1281.3 206.72 L1282.48 205.78 L1283.66 204.92 L1284.84 204.2 L1286.06 203.5 L1287.28 202.8 L1288.5 202.14 L1289.71 201.6 L1290.93 201.23 L1292.15 201.09 L1293.35 201.1 L1294.54 201.12 L1295.74 201.16 L1296.93 201.21 L1298.13 201.28 L1299.32 201.35 L1299.79 201.4 L1300.25 201.47 L1300.72 201.57 L1301.18 201.67 L1301.65 201.77 L1302.11 201.87 L1303 203.36" stroke="#8a0000"/>
</g>
<g font-family="Liberation Sans, Arial, sans-serif" font-weight="bold" font-size="17.5" fill="#000">
<text x="993" y="329.2" text-anchor="middle">0</text>
<text x="1037.29" y="329.2" text-anchor="middle">1</text>
<text x="1081.57" y="329.2" text-anchor="middle">2</text>
<text x="1125.86" y="329.2" text-anchor="middle">3</text>
<text x="1170.14" y="329.2" text-anchor="middle">4</text>
<text x="1214.43" y="329.2" text-anchor="middle">5</text>
<text x="1258.71" y="329.2" text-anchor="middle">6</text>
<text x="1303" y="329.2" text-anchor="middle">7</text>
<text x="985.2" y="311.1" text-anchor="end">6</text>
<text x="985.2" y="259.32" text-anchor="end">7</text>
<text x="985.2" y="207.55" text-anchor="end">8</text>
<text x="985.2" y="155.77" text-anchor="end">9</text>
<text x="985.2" y="104" text-anchor="end">10</text>
</g>
<text x="1148" y="350.3" text-anchor="middle" font-family="Liberation Sans, Arial, sans-serif" font-weight="bold" font-size="15.66">Time (Day)</text>
<text transform="translate(958.8 195.65) rotate(-90)" text-anchor="middle" font-family="Liberation Sans, Arial, sans-serif" font-weight="bold" font-size="15.8">Biliary BA/PL Ratio in CBD</text>
<text x="1148" y="48.9" text-anchor="middle" font-family="Liberation Sans, Arial, sans-serif" font-weight="bold" font-size="17.8">Biliary Bile Acid-to-Phospholipid Ratio</text>
<text x="1148" y="69.8" text-anchor="middle" font-family="Liberation Sans, Arial, sans-serif" font-weight="bold" font-size="17.8">in the Common Bile Duct</text>
<rect x="1110.6" y="233.2" width="13.8" height="4.6" fill="#bdbb2a"/>
<text x="1131.3" y="240.9" font-family="Liberation Sans, Arial, sans-serif" font-size="16.25">0.1X Baseline Shunting</text>
<rect x="1110.6" y="256.2" width="13.8" height="4.6" fill="#57976a"/>
<text x="1131.3" y="263.5" font-family="Liberation Sans, Arial, sans-serif" font-size="16.25">Baseline Shunting</text>
<rect x="1110.6" y="279.2" width="13.8" height="4.6" fill="#8a0000"/>
<text x="1131.3" y="286.6" font-family="Liberation Sans, Arial, sans-serif" font-size="16.25">10X Baseline Shunting</text>
<g stroke="#000" stroke-width="1.8" fill="none" stroke-linecap="square">
<path d="M1451.1 96.9 V304.3 H1762"/>
</g>
<g stroke="#000" stroke-width="1.7" fill="none">
<path d="M1451.1 304.3 v5.8 M1462.2 304.3 v3.2 M1473.31 304.3 v3.2 M1484.41 304.3 v3.2 M1495.51 304.3 v5.8 M1506.62 304.3 v3.2 M1517.72 304.3 v3.2 M1528.82 304.3 v3.2 M1539.93 304.3 v5.8 M1551.03 304.3 v3.2 M1562.14 304.3 v3.2 M1573.24 304.3 v3.2 M1584.34 304.3 v5.8 M1595.45 304.3 v3.2 M1606.55 304.3 v3.2 M1617.65 304.3 v3.2 M1628.76 304.3 v5.8 M1639.86 304.3 v3.2 M1650.96 304.3 v3.2 M1662.07 304.3 v3.2 M1673.17 304.3 v5.8 M1684.28 304.3 v3.2 M1695.38 304.3 v3.2 M1706.48 304.3 v3.2 M1717.59 304.3 v5.8 M1728.69 304.3 v3.2 M1739.79 304.3 v3.2 M1750.9 304.3 v3.2 M1762 304.3 v5.8 M1451.1 304.3 h-5.8 M1451.1 291.34 h-3.2 M1451.1 278.38 h-3.2 M1451.1 265.41 h-3.2 M1451.1 252.45 h-5.8 M1451.1 239.49 h-3.2 M1451.1 226.53 h-3.2 M1451.1 213.56 h-3.2 M1451.1 200.6 h-5.8 M1451.1 187.64 h-3.2 M1451.1 174.68 h-3.2 M1451.1 161.71 h-3.2 M1451.1 148.75 h-5.8 M1451.1 135.79 h-3.2 M1451.1 122.83 h-3.2 M1451.1 109.86 h-3.2 M1451.1 96.9 h-5.8"/>
</g>
<g fill="none" stroke-width="4.9" stroke-linejoin="miter" stroke-miterlimit="2.2" stroke-linecap="butt">
<path d="M1451.1 283.56 L1454.65 244.67 L1457.32 242.6 L1459.98 261.78 L1461.76 241.56 L1464.42 244.67 L1467.8 279.41 L1470.42 249.86 L1473.97 249.86 L1474.53 253.71 L1475.08 257.74 L1475.64 261.76 L1476.19 265.62 L1476.75 269.14 L1477.3 272.15 L1477.75 274.34 L1478.19 276.5 L1478.64 278.51 L1479.08 280.26 L1479.53 281.64 L1479.97 282.52 L1480.64 283.31 L1481.3 283.9 L1481.97 284.37 L1482.63 284.77 L1483.3 285.17 L1483.97 285.63 L1497.38 284.6 L1498.27 247.27 L1501.07 242.34 L1503.51 268 L1505.86 241.3 L1508.17 243.89 L1513.28 279.93 L1514.79 249.86 L1518.61 249.86 L1519.2 253.79 L1519.79 257.97 L1520.39 262.15 L1520.98 266.08 L1521.57 269.5 L1522.16 272.15 L1522.83 274.5 L1523.5 276.62 L1524.16 278.49 L1524.83 280.11 L1525.49 281.45 L1526.16 282.52 L1526.69 283.2 L1527.23 283.76 L1527.76 284.25 L1528.29 284.7 L1528.82 285.15 L1529.36 285.63 L1541.79 284.6 L1542.68 247.27 L1545.48 242.34 L1547.92 268 L1550.28 241.3 L1552.59 243.89 L1557.69 279.93 L1559.2 249.86 L1563.02 249.86 L1563.62 253.79 L1564.21 257.97 L1564.8 262.15 L1565.39 266.08 L1565.98 269.5 L1566.58 272.15 L1567.24 274.5 L1567.91 276.62 L1568.58 278.49 L1569.24 280.11 L1569.91 281.45 L1570.57 282.52 L1571.11 283.2 L1571.64 283.76 L1572.17 284.25 L1572.71 284.7 L1573.24 285.15 L1573.77 285.63 L1586.21 284.6 L1587.1 247.27 L1589.89 242.34 L1592.34 268 L1594.69 241.3 L1597 243.89 L1602.11 279.93 L1603.62 249.86 L1607.44 249.86 L1608.03 253.79 L1608.62 257.97 L1609.21 262.15 L1609.81 266.08 L1610.4 269.5 L1610.99 272.15 L1611.66 274.5 L1612.32 276.62 L1612.99 278.49 L1613.66 280.11 L1614.32 281.45 L1614.99 282.52 L1615.52 283.2 L1616.05 283.76 L1616.59 284.25 L1617.12 284.7 L1617.65 285.15 L1618.19 285.63 L1630.62 284.6 L1631.51 247.27 L1634.31 242.34 L1636.75 268 L1639.11 241.3 L1641.42 243.89 L1646.52 279.93 L1648.03 249.86 L1651.85 249.86 L1652.44 253.79 L1653.04 257.97 L1653.63 262.15 L1654.22 266.08 L1654.81 269.5 L1655.41 272.15 L1656.07 274.5 L1656.74 276.62 L1657.4 278.49 L1658.07 280.11 L1658.74 281.45 L1659.4 282.52 L1659.94 283.2 L1660.47 283.76 L1661 284.25 L1661.53 284.7 L1662.07 285.15 L1662.6 285.63 L1675.04 284.6 L1675.93 247.27 L1678.72 242.34 L1681.17 268 L1683.52 241.3 L1685.83 243.89 L1690.94 279.93 L1692.45 249.86 L1696.27 249.86 L1696.86 253.79 L1697.45 257.97 L1698.04 262.15 L1698.64 266.08 L1699.23 269.5 L1699.82 272.15 L1700.49 274.5 L1701.15 276.62 L1701.82 278.49 L1702.48 280.11 L1703.15 281.45 L1703.82 282.52 L1704.35 283.2 L1704.88 283.76 L1705.42 284.25 L1705.95 284.7 L1706.48 285.15 L1707.02 285.63 L1719.45 284.6 L1720.34 247.27 L1723.14 242.34 L1725.58 268 L1727.93 241.3 L1730.24 243.89 L1735.35 279.93 L1736.86 249.86 L1740.68 249.86 L1741.27 253.79 L1741.87 257.97 L1742.46 262.15 L1743.05 266.08 L1743.64 269.5 L1744.23 272.15 L1744.9 274.5 L1745.57 276.62 L1746.23 278.49 L1746.9 280.11 L1747.57 281.45 L1748.23 282.52 L1748.76 283.2 L1749.3 283.76 L1749.83 284.25 L1750.36 284.7 L1750.9 285.15 L1751.43 285.63 L1762 284.75" stroke="#bdbb2a"/>
<path d="M1451.1 282 L1454.65 243.64 L1457.32 241.82 L1459.98 257.63 L1461.76 241.04 L1464.42 243.64 L1467.8 273.4 L1470.42 248.82 L1473.97 248.82 L1474.53 252.1 L1475.08 255.47 L1475.64 258.84 L1476.19 262.12 L1476.75 265.24 L1477.3 268.11 L1477.75 270.37 L1478.19 272.7 L1478.64 274.93 L1479.08 276.92 L1479.53 278.5 L1479.97 279.52 L1480.64 280.4 L1481.3 281.07 L1481.97 281.6 L1482.63 282.06 L1483.3 282.51 L1483.97 283.04 L1497.38 281.49 L1498.27 246.02 L1501.07 241.82 L1503.51 265.41 L1505.86 240.78 L1508.17 243.38 L1513.28 277.18 L1514.79 248.92 L1518.61 248.92 L1519.31 252.51 L1520 256.27 L1520.7 260.03 L1521.39 263.62 L1522.09 266.87 L1522.78 269.61 L1523.42 271.78 L1524.06 273.81 L1524.69 275.68 L1525.33 277.36 L1525.97 278.8 L1526.6 279.98 L1527.06 280.67 L1527.52 281.26 L1527.98 281.79 L1528.44 282.28 L1528.9 282.78 L1529.36 283.3 L1541.79 280.97 L1542.68 246.02 L1545.48 241.82 L1547.92 265.41 L1550.28 240.78 L1552.59 243.38 L1557.69 277.18 L1559.2 248.92 L1563.02 248.92 L1563.72 252.51 L1564.42 256.27 L1565.11 260.03 L1565.81 263.62 L1566.5 266.87 L1567.2 269.61 L1567.84 271.78 L1568.47 273.81 L1569.11 275.68 L1569.75 277.36 L1570.38 278.8 L1571.02 279.98 L1571.48 280.67 L1571.94 281.26 L1572.4 281.79 L1572.85 282.28 L1573.31 282.78 L1573.77 283.3 L1586.21 280.97 L1587.1 246.02 L1589.89 241.82 L1592.34 265.41 L1594.69 240.78 L1597 243.38 L1602.11 277.18 L1603.62 248.92 L1607.44 248.92 L1608.13 252.51 L1608.83 256.27 L1609.53 260.03 L1610.22 263.62 L1610.92 266.87 L1611.61 269.61 L1612.25 271.78 L1612.89 273.81 L1613.52 275.68 L1614.16 277.36 L1614.8 278.8 L1615.43 279.98 L1615.89 280.67 L1616.35 281.26 L1616.81 281.79 L1617.27 282.28 L1617.73 282.78 L1618.19 283.3 L1630.62 280.97 L1631.51 246.02 L1634.31 241.82 L1636.75 265.41 L1639.11 240.78 L1641.42 243.38 L1646.52 277.18 L1648.03 248.92 L1651.85 248.92 L1652.55 252.51 L1653.24 256.27 L1653.94 260.03 L1654.64 263.62 L1655.33 266.87 L1656.03 269.61 L1656.66 271.78 L1657.3 273.81 L1657.94 275.68 L1658.57 277.36 L1659.21 278.8 L1659.85 279.98 L1660.31 280.67 L1660.77 281.26 L1661.22 281.79 L1661.68 282.28 L1662.14 282.78 L1662.6 283.3 L1675.04 280.97 L1675.93 246.02 L1678.72 241.82 L1681.17 265.41 L1683.52 240.78 L1685.83 243.38 L1690.94 277.18 L1692.45 248.92 L1696.27 248.92 L1696.96 252.51 L1697.66 256.27 L1698.35 260.03 L1699.05 263.62 L1699.75 266.87 L1700.44 269.61 L1701.08 271.78 L1701.72 273.81 L1702.35 275.68 L1702.99 277.36 L1703.62 278.8 L1704.26 279.98 L1704.72 280.67 L1705.18 281.26 L1705.64 281.79 L1706.1 282.28 L1706.56 282.78 L1707.02 283.3 L1719.45 280.97 L1720.34 246.02 L1723.14 241.82 L1725.58 265.41 L1727.93 240.78 L1730.24 243.38 L1735.35 277.18 L1736.86 248.92 L1740.68 248.92 L1741.38 252.51 L1742.07 256.27 L1742.77 260.03 L1743.46 263.62 L1744.16 266.87 L1744.86 269.61 L1745.49 271.78 L1746.13 273.81 L1746.77 275.68 L1747.4 277.36 L1748.04 278.8 L1748.68 279.98 L1749.13 280.67 L1749.59 281.26 L1750.05 281.79 L1750.51 282.28 L1750.97 282.78 L1751.43 283.3 L1762 281.32" stroke="#57976a"/>
<path d="M1451.1 282.11 L1452.88 275.26 L1454.65 227.82 L1456.43 219.01 L1460.87 226.01 L1462.65 204.23 L1465.31 199.82 L1469.31 219.89 L1472.2 195.42 L1473.97 194.53 L1474.6 196.6 L1475.23 198.68 L1475.86 200.76 L1476.49 202.82 L1477.12 204.85 L1477.75 206.82 L1478.49 209.1 L1479.23 211.36 L1479.97 213.57 L1480.71 215.73 L1481.45 217.81 L1482.19 219.78 L1482.93 221.71 L1483.67 223.61 L1484.41 225.45 L1485.15 227.18 L1485.89 228.76 L1486.63 230.15 L1487.52 231.68 L1488.41 233.13 L1489.3 234.48 L1490.18 235.67 L1491.07 236.66 L1491.96 237.41 L1492.9 238 L1493.84 238.47 L1494.78 238.87 L1495.72 239.24 L1496.66 239.6 L1497.6 240.01 L1498.27 240.01 L1500.22 195.42 L1502.18 194.9 L1504.62 205.01 L1507.06 182.45 L1508.84 181.42 L1512.84 204.23 L1516.83 179.86 L1518.61 179.6 L1519.09 181.28 L1519.57 182.96 L1520.05 184.65 L1520.53 186.33 L1521.02 188.02 L1521.5 189.71 L1522.2 192.23 L1522.9 194.79 L1523.61 197.36 L1524.31 199.9 L1525.01 202.38 L1525.72 204.75 L1526.46 207.15 L1527.2 209.51 L1527.94 211.8 L1528.68 214.03 L1529.42 216.17 L1530.16 218.23 L1530.86 220.15 L1531.56 222.07 L1532.27 223.93 L1532.97 225.67 L1533.67 227.24 L1534.38 228.6 L1535.08 229.82 L1535.78 231 L1536.49 232.08 L1537.19 233.03 L1537.89 233.78 L1538.6 234.3 L1539.28 234.63 L1539.96 234.89 L1540.64 235.11 L1541.32 235.3 L1542 235.49 L1542.68 235.7 L1543.26 196.97 L1544.81 187.79 L1548.37 201.12 L1552.14 175.71 L1558.36 201.12 L1562.58 175.71 L1563.14 177.44 L1563.69 179.15 L1564.25 180.86 L1564.8 182.59 L1565.36 184.37 L1565.91 186.24 L1566.61 188.77 L1567.32 191.48 L1568.02 194.27 L1568.72 197.06 L1569.43 199.77 L1570.13 202.31 L1570.87 204.83 L1571.61 207.28 L1572.35 209.66 L1573.09 211.96 L1573.83 214.18 L1574.57 216.31 L1575.27 218.3 L1575.98 220.27 L1576.68 222.18 L1577.38 223.98 L1578.09 225.63 L1578.79 227.1 L1579.49 228.44 L1580.2 229.73 L1580.9 230.94 L1581.6 232.01 L1582.31 232.91 L1583.01 233.58 L1583.69 234.05 L1584.37 234.44 L1585.05 234.77 L1585.73 235.07 L1586.42 235.37 L1587.1 235.7 L1587.67 196.97 L1589.23 187.79 L1592.78 201.12 L1596.56 175.71 L1602.77 201.12 L1606.99 175.71 L1607.55 177.44 L1608.1 179.15 L1608.66 180.86 L1609.21 182.59 L1609.77 184.37 L1610.33 186.24 L1611.03 188.77 L1611.73 191.48 L1612.43 194.27 L1613.14 197.06 L1613.84 199.77 L1614.54 202.31 L1615.28 204.83 L1616.03 207.28 L1616.77 209.66 L1617.51 211.96 L1618.25 214.18 L1618.99 216.31 L1619.69 218.3 L1620.39 220.27 L1621.1 222.18 L1621.8 223.98 L1622.5 225.63 L1623.21 227.1 L1623.91 228.44 L1624.61 229.73 L1625.32 230.94 L1626.02 232.01 L1626.72 232.91 L1627.42 233.58 L1628.11 234.05 L1628.79 234.44 L1629.47 234.77 L1630.15 235.07 L1630.83 235.37 L1631.51 235.7 L1632.09 196.97 L1633.64 187.79 L1637.2 201.12 L1640.97 175.71 L1647.19 201.12 L1651.41 175.71 L1651.96 177.44 L1652.52 179.15 L1653.07 180.86 L1653.63 182.59 L1654.18 184.37 L1654.74 186.24 L1655.44 188.77 L1656.15 191.48 L1656.85 194.27 L1657.55 197.06 L1658.26 199.77 L1658.96 202.31 L1659.7 204.83 L1660.44 207.28 L1661.18 209.66 L1661.92 211.96 L1662.66 214.18 L1663.4 216.31 L1664.1 218.3 L1664.81 220.27 L1665.51 222.18 L1666.21 223.98 L1666.92 225.63 L1667.62 227.1 L1668.32 228.44 L1669.03 229.73 L1669.73 230.94 L1670.43 232.01 L1671.14 232.91 L1671.84 233.58 L1672.52 234.05 L1673.2 234.44 L1673.88 234.77 L1674.56 235.07 L1675.24 235.37 L1675.93 235.7 L1676.5 196.97 L1678.06 187.79 L1681.61 201.12 L1685.39 175.71 L1691.6 201.12 L1695.82 175.71 L1696.38 177.44 L1696.93 179.15 L1697.49 180.86 L1698.04 182.59 L1698.6 184.37 L1699.15 186.24 L1699.86 188.77 L1700.56 191.48 L1701.26 194.27 L1701.97 197.06 L1702.67 199.77 L1703.37 202.31 L1704.11 204.83 L1704.85 207.28 L1705.59 209.66 L1706.33 211.96 L1707.07 214.18 L1707.81 216.31 L1708.52 218.3 L1709.22 220.27 L1709.92 222.18 L1710.63 223.98 L1711.33 225.63 L1712.03 227.1 L1712.74 228.44 L1713.44 229.73 L1714.14 230.94 L1714.85 232.01 L1715.55 232.91 L1716.25 233.58 L1716.93 234.05 L1717.62 234.44 L1718.3 234.77 L1718.98 235.07 L1719.66 235.37 L1720.34 235.7 L1720.92 196.97 L1722.47 187.79 L1726.02 201.12 L1729.8 175.71 L1736.02 201.12 L1740.24 175.71 L1740.79 177.44 L1741.35 179.15 L1741.9 180.86 L1742.46 182.59 L1743.01 184.37 L1743.57 186.24 L1744.27 188.77 L1744.97 191.48 L1745.68 194.27 L1746.38 197.06 L1747.08 199.77 L1747.79 202.31 L1748.53 204.83 L1749.27 207.28 L1750.01 209.66 L1750.75 211.96 L1751.49 214.18 L1752.23 216.31 L1752.93 218.3 L1753.64 220.27 L1754.34 222.18 L1755.04 223.98 L1755.74 225.63 L1756.45 227.1 L1757.15 228.44 L1757.85 229.73 L1758.56 230.94 L1759.26 232.01 L1759.96 232.91 L1760.67 233.58 L1761.35 234.05 L1762 234.42" stroke="#8a0000"/>
</g>
<g font-family="Liberation Sans, Arial, sans-serif" font-weight="bold" font-size="17.5" fill="#000">
<text x="1451.1" y="328.6" text-anchor="middle">0</text>
<text x="1495.51" y="328.6" text-anchor="middle">1</text>
<text x="1539.93" y="328.6" text-anchor="middle">2</text>
<text x="1584.34" y="328.6" text-anchor="middle">3</text>
<text x="1628.76" y="328.6" text-anchor="middle">4</text>
<text x="1673.17" y="328.6" text-anchor="middle">5</text>
<text x="1717.59" y="328.6" text-anchor="middle">6</text>
<text x="1762" y="328.6" text-anchor="middle">7</text>
<text x="1443.3" y="310.5" text-anchor="end">0</text>
<text x="1443.3" y="258.65" text-anchor="end">100</text>
<text x="1443.3" y="206.8" text-anchor="end">200</text>
<text x="1443.3" y="154.95" text-anchor="end">300</text>
<text x="1443.3" y="103.1" text-anchor="end">400</text>
</g>
<text x="1606.55" y="349.7" text-anchor="middle" font-family="Liberation Sans, Arial, sans-serif" font-weight="bold" font-size="15.66">Time (Day)</text>
<text transform="translate(1406.6 194.9) rotate(-90)" text-anchor="middle" font-family="Liberation Sans, Arial, sans-serif" font-weight="bold" font-size="15.8">Liver Total BA Concentration (μM)</text>
<text x="1606.55" y="68.9" text-anchor="middle" font-family="Liberation Sans, Arial, sans-serif" font-weight="bold" font-size="17.8">Hepatic Total Bile Acid Concentrations</text>
<rect x="1520.9" y="94.9" width="13.8" height="4.6" fill="#bdbb2a"/>
<text x="1541.9" y="102.65" font-family="Liberation Sans, Arial, sans-serif" font-size="16.25">0.1X Baseline Shunting</text>
<rect x="1520.9" y="117.8" width="13.8" height="4.6" fill="#57976a"/>
<text x="1541.9" y="125.5" font-family="Liberation Sans, Arial, sans-serif" font-size="16.25">Baseline Shunting</text>
<rect x="1520.9" y="140.6" width="13.8" height="4.6" fill="#8a0000"/>
<text x="1541.9" y="148.3" font-family="Liberation Sans, Arial, sans-serif" font-size="16.25">10X Baseline Shunting</text>
<g stroke="#000" stroke-width="1.8" fill="none" stroke-linecap="square">
<path d="M67.8 482.8 V690.1 H377.6"/>
</g>
<g stroke="#000" stroke-width="1.7" fill="none">
<path d="M67.8 690.1 v5.8 M78.86 690.1 v3.2 M89.93 690.1 v3.2 M100.99 690.1 v3.2 M112.06 690.1 v5.8 M123.12 690.1 v3.2 M134.19 690.1 v3.2 M145.25 690.1 v3.2 M156.31 690.1 v5.8 M167.38 690.1 v3.2 M178.44 690.1 v3.2 M189.51 690.1 v3.2 M200.57 690.1 v5.8 M211.64 690.1 v3.2 M222.7 690.1 v3.2 M233.76 690.1 v3.2 M244.83 690.1 v5.8 M255.89 690.1 v3.2 M266.96 690.1 v3.2 M278.02 690.1 v3.2 M289.09 690.1 v5.8 M300.15 690.1 v3.2 M311.21 690.1 v3.2 M322.28 690.1 v3.2 M333.34 690.1 v5.8 M344.41 690.1 v3.2 M355.47 690.1 v3.2 M366.54 690.1 v3.2 M377.6 690.1 v5.8 M67.8 690.1 h-5.8 M67.8 677.14 h-3.2 M67.8 664.19 h-3.2 M67.8 651.23 h-3.2 M67.8 638.27 h-5.8 M67.8 625.32 h-3.2 M67.8 612.36 h-3.2 M67.8 599.41 h-3.2 M67.8 586.45 h-5.8 M67.8 573.49 h-3.2 M67.8 560.54 h-3.2 M67.8 547.58 h-3.2 M67.8 534.62 h-5.8 M67.8 521.67 h-3.2 M67.8 508.71 h-3.2 M67.8 495.76 h-3.2 M67.8 482.8 h-5.8"/>
</g>
<g fill="none" stroke-width="4.9" stroke-linejoin="miter" stroke-miterlimit="2.2" stroke-linecap="butt">
<path d="M67.8 582.82 L71.12 589.04 L76.65 555.36 L79 554.84 L83.29 538.25 L86.83 539.81 L89.93 555.87 L93.47 539.81 L96.57 542.4 L97.3 545.92 L98.04 549.53 L98.78 553.13 L99.52 556.65 L100.26 560.01 L100.99 563.13 L101.8 566.5 L102.62 569.95 L103.43 573.27 L104.24 576.23 L105.05 578.62 L105.86 580.23 L106.64 581.2 L107.41 581.97 L108.18 582.61 L108.96 583.18 L109.73 583.74 L110.51 584.38 L112.06 583.34 L116.22 588 L120.47 555.36 L123.43 555.36 L128.3 539.81 L131.97 556.39 L138.04 542.4 L141.05 547.06 L141.45 547.89 L141.86 548.66 L142.26 549.44 L142.67 550.26 L143.07 551.18 L143.48 552.25 L144.14 554.63 L144.81 557.77 L145.47 561.32 L146.14 564.92 L146.8 568.24 L147.46 570.9 L148.05 572.87 L148.64 574.78 L149.23 576.54 L149.82 578.09 L150.41 579.35 L151 580.23 L151.59 580.86 L152.18 581.4 L152.77 581.86 L153.36 582.24 L153.95 582.56 L154.54 582.82 L154.84 582.93 L155.13 583.02 L155.43 583.1 L155.72 583.18 L156.02 583.26 L156.31 583.34 L160.47 588 L164.72 555.36 L167.69 555.36 L172.56 539.81 L176.23 556.39 L182.29 542.4 L185.3 547.06 L185.71 547.89 L186.11 548.66 L186.52 549.44 L186.93 550.26 L187.33 551.18 L187.74 552.25 L188.4 554.63 L189.06 557.77 L189.73 561.32 L190.39 564.92 L191.06 568.24 L191.72 570.9 L192.31 572.87 L192.9 574.78 L193.49 576.54 L194.08 578.09 L194.67 579.35 L195.26 580.23 L195.85 580.86 L196.44 581.4 L197.03 581.86 L197.62 582.24 L198.21 582.56 L198.8 582.82 L199.1 582.93 L199.39 583.02 L199.69 583.1 L199.98 583.18 L200.28 583.26 L200.57 583.34 L204.73 588 L208.98 555.36 L211.95 555.36 L216.81 539.81 L220.49 556.39 L226.55 542.4 L229.56 547.06 L229.97 547.89 L230.37 548.66 L230.78 549.44 L231.18 550.26 L231.59 551.18 L231.99 552.25 L232.66 554.63 L233.32 557.77 L233.99 561.32 L234.65 564.92 L235.31 568.24 L235.98 570.9 L236.57 572.87 L237.16 574.78 L237.75 576.54 L238.34 578.09 L238.93 579.35 L239.52 580.23 L240.11 580.86 L240.7 581.4 L241.29 581.86 L241.88 582.24 L242.47 582.56 L243.06 582.82 L243.35 582.93 L243.65 583.02 L243.94 583.1 L244.24 583.18 L244.53 583.26 L244.83 583.34 L248.99 588 L253.24 555.36 L256.2 555.36 L261.07 539.81 L264.74 556.39 L270.81 542.4 L273.82 547.06 L274.22 547.89 L274.63 548.66 L275.03 549.44 L275.44 550.26 L275.85 551.18 L276.25 552.25 L276.92 554.63 L277.58 557.77 L278.24 561.32 L278.91 564.92 L279.57 568.24 L280.23 570.9 L280.82 572.87 L281.41 574.78 L282 576.54 L282.59 578.09 L283.18 579.35 L283.77 580.23 L284.36 580.86 L284.96 581.4 L285.55 581.86 L286.14 582.24 L286.73 582.56 L287.32 582.82 L287.61 582.93 L287.91 583.02 L288.2 583.1 L288.5 583.18 L288.79 583.26 L289.09 583.34 L293.25 588 L297.49 555.36 L300.46 555.36 L305.33 539.81 L309 556.39 L315.06 542.4 L318.07 547.06 L318.48 547.89 L318.89 548.66 L319.29 549.44 L319.7 550.26 L320.1 551.18 L320.51 552.25 L321.17 554.63 L321.84 557.77 L322.5 561.32 L323.16 564.92 L323.83 568.24 L324.49 570.9 L325.08 572.87 L325.67 574.78 L326.26 576.54 L326.85 578.09 L327.44 579.35 L328.03 580.23 L328.62 580.86 L329.21 581.4 L329.8 581.86 L330.39 582.24 L330.98 582.56 L331.57 582.82 L331.87 582.93 L332.16 583.02 L332.46 583.1 L332.75 583.18 L333.05 583.26 L333.34 583.34 L337.5 588 L341.75 555.36 L344.72 555.36 L349.59 539.81 L353.26 556.39 L359.32 542.4 L362.33 547.06 L362.74 547.89 L363.14 548.66 L363.55 549.44 L363.95 550.26 L364.36 551.18 L364.77 552.25 L365.43 554.63 L366.09 557.77 L366.76 561.32 L367.42 564.92 L368.08 568.24 L368.75 570.9 L369.34 572.87 L369.93 574.78 L370.52 576.54 L371.11 578.09 L371.7 579.35 L372.29 580.23 L372.88 580.86 L373.47 581.4 L374.06 581.86 L374.65 582.24 L375.24 582.56 L375.83 582.82 L376.12 582.93 L376.42 583.02 L376.71 583.1 L377.01 583.18 L377.3 583.26 L377.6 583.34" stroke="#bdbb2a"/>
<path d="M67.8 583.34 L71.12 591.63 L76.65 537.73 L79 548.1 L83.29 525.3 L86.83 522.71 L89.93 548.1 L93.47 527.37 L96.57 531.52 L97.27 536.25 L97.97 541.17 L98.67 546.08 L99.37 550.82 L100.07 555.18 L100.77 558.98 L101.58 562.99 L102.39 566.87 L103.21 570.48 L104.02 573.67 L104.83 576.28 L105.64 578.16 L106.45 579.6 L107.26 580.94 L108.07 582.11 L108.89 583.03 L109.7 583.64 L110.51 583.86 L111.02 583.83 L111.53 583.76 L112.04 583.66 L112.54 583.55 L113.05 583.44 L113.56 583.34 L116.04 593.19 L120.24 538.25 L123.25 550.69 L127.99 529.44 L131.09 534.62 L132.42 557.43 L137.73 536.18 L140.82 541.88 L141.64 547.02 L142.45 552.41 L143.26 557.8 L144.07 562.93 L144.88 567.56 L145.69 571.42 L146.5 574.79 L147.32 578.03 L148.13 580.99 L148.94 583.56 L149.75 585.6 L150.56 586.97 L151.22 587.77 L151.89 588.5 L152.55 589.14 L153.22 589.63 L153.88 589.96 L154.54 590.08 L155.11 590.05 L155.68 589.98 L156.25 589.88 L156.82 589.77 L157.38 589.66 L157.95 589.56 L160.47 596.82 L164.72 540.84 L167.69 552.76 L172.56 533.07 L176.23 561.57 L182.29 538.77 L185.3 546.03 L185.93 550.4 L186.56 554.95 L187.18 559.51 L187.81 563.88 L188.44 567.91 L189.06 571.42 L189.65 574.39 L190.24 577.23 L190.83 579.89 L191.42 582.27 L192.02 584.31 L192.61 585.93 L193.12 587.16 L193.64 588.36 L194.15 589.43 L194.67 590.31 L195.19 590.9 L195.7 591.11 L196.22 591.09 L196.74 591.03 L197.25 590.94 L197.77 590.83 L198.28 590.71 L198.8 590.6 L199.37 590.46 L199.94 590.3 L200.51 590.12 L201.07 589.93 L201.64 589.74 L202.21 589.56 L204.73 596.82 L208.98 540.84 L211.95 552.76 L216.81 533.07 L220.49 561.57 L226.55 538.77 L229.56 546.03 L230.19 550.4 L230.81 554.95 L231.44 559.51 L232.07 563.88 L232.69 567.91 L233.32 571.42 L233.91 574.39 L234.5 577.23 L235.09 579.89 L235.68 582.27 L236.27 584.31 L236.86 585.93 L237.38 587.16 L237.89 588.36 L238.41 589.43 L238.93 590.31 L239.44 590.9 L239.96 591.11 L240.48 591.09 L240.99 591.03 L241.51 590.94 L242.03 590.83 L242.54 590.71 L243.06 590.6 L243.63 590.46 L244.19 590.3 L244.76 590.12 L245.33 589.93 L245.9 589.74 L246.47 589.56 L248.99 596.82 L253.24 540.84 L256.2 552.76 L261.07 533.07 L264.74 561.57 L270.81 538.77 L273.82 546.03 L274.44 550.4 L275.07 554.95 L275.7 559.51 L276.32 563.88 L276.95 567.91 L277.58 571.42 L278.17 574.39 L278.76 577.23 L279.35 579.89 L279.94 582.27 L280.53 584.31 L281.12 585.93 L281.64 587.16 L282.15 588.36 L282.67 589.43 L283.18 590.31 L283.7 590.9 L284.22 591.11 L284.73 591.09 L285.25 591.03 L285.77 590.94 L286.28 590.83 L286.8 590.71 L287.32 590.6 L287.88 590.46 L288.45 590.3 L289.02 590.12 L289.59 589.93 L290.16 589.74 L290.72 589.56 L293.25 596.82 L297.49 540.84 L300.46 552.76 L305.33 533.07 L309 561.57 L315.06 538.77 L318.07 546.03 L318.7 550.4 L319.33 554.95 L319.96 559.51 L320.58 563.88 L321.21 567.91 L321.84 571.42 L322.43 574.39 L323.02 577.23 L323.61 579.89 L324.2 582.27 L324.79 584.31 L325.38 585.93 L325.89 587.16 L326.41 588.36 L326.93 589.43 L327.44 590.31 L327.96 590.9 L328.47 591.11 L328.99 591.09 L329.51 591.03 L330.02 590.94 L330.54 590.83 L331.06 590.71 L331.57 590.6 L332.14 590.46 L332.71 590.3 L333.28 590.12 L333.84 589.93 L334.41 589.74 L334.98 589.56 L337.5 596.82 L341.75 540.84 L344.72 552.76 L349.59 533.07 L353.26 561.57 L359.32 538.77 L362.33 546.03 L362.96 550.4 L363.59 554.95 L364.21 559.51 L364.84 563.88 L365.47 567.91 L366.09 571.42 L366.68 574.39 L367.27 577.23 L367.86 579.89 L368.45 582.27 L369.04 584.31 L369.63 585.93 L370.15 587.16 L370.67 588.36 L371.18 589.43 L371.7 590.31 L372.22 590.9 L372.73 591.11 L373.25 591.09 L373.76 591.03 L374.28 590.94 L374.8 590.83 L375.31 590.71 L375.83 590.6 L376.4 590.46 L376.97 590.3 L377.53 590.12 L377.6 590.09" stroke="#57976a"/>
<path d="M67.8 582.82 L71.12 591.11 L76.65 537.22 L79 547.58 L83.29 524.78 L86.83 522.19 L89.93 547.58 L93.47 526.85 L96.57 531 L97.27 535.73 L97.97 540.65 L98.67 545.57 L99.37 550.3 L100.07 554.66 L100.77 558.46 L101.58 562.47 L102.39 566.35 L103.21 569.96 L104.02 573.15 L104.83 575.76 L105.64 577.64 L106.45 579.08 L107.26 580.42 L108.07 581.59 L108.89 582.51 L109.7 583.12 L110.51 583.34 L111.02 583.31 L111.53 583.24 L112.04 583.15 L112.54 583.03 L113.05 582.92 L113.56 582.82 L116.04 592.67 L120.24 537.73 L123.25 550.17 L127.99 528.92 L131.09 534.11 L132.42 556.91 L137.73 535.66 L140.82 541.36 L141.64 546.5 L142.45 551.89 L143.26 557.28 L144.07 562.41 L144.88 567.04 L145.69 570.9 L146.5 574.27 L147.32 577.51 L148.13 580.47 L148.94 583.04 L149.75 585.08 L150.56 586.45 L151.22 587.25 L151.89 587.98 L152.55 588.62 L153.22 589.12 L153.88 589.44 L154.54 589.56 L155.11 589.53 L155.68 589.46 L156.25 589.37 L156.82 589.25 L157.38 589.14 L157.95 589.04 L160.47 596.3 L164.72 540.33 L167.69 552.25 L172.56 532.55 L176.23 561.06 L182.29 538.25 L185.3 545.51 L185.93 549.89 L186.56 554.44 L187.18 558.99 L187.81 563.36 L188.44 567.39 L189.06 570.9 L189.65 573.87 L190.24 576.72 L190.83 579.37 L191.42 581.75 L192.02 583.79 L192.61 585.41 L193.12 586.64 L193.64 587.84 L194.15 588.92 L194.67 589.79 L195.19 590.38 L195.7 590.6 L196.22 590.57 L196.74 590.51 L197.25 590.42 L197.77 590.31 L198.28 590.19 L198.8 590.08 L199.37 589.94 L199.94 589.78 L200.51 589.6 L201.07 589.41 L201.64 589.22 L202.21 589.04 L204.73 596.3 L208.98 540.33 L211.95 552.25 L216.81 532.55 L220.49 561.06 L226.55 538.25 L229.56 545.51 L230.19 549.89 L230.81 554.44 L231.44 558.99 L232.07 563.36 L232.69 567.39 L233.32 570.9 L233.91 573.87 L234.5 576.72 L235.09 579.37 L235.68 581.75 L236.27 583.79 L236.86 585.41 L237.38 586.64 L237.89 587.84 L238.41 588.92 L238.93 589.79 L239.44 590.38 L239.96 590.6 L240.48 590.57 L240.99 590.51 L241.51 590.42 L242.03 590.31 L242.54 590.19 L243.06 590.08 L243.63 589.94 L244.19 589.78 L244.76 589.6 L245.33 589.41 L245.9 589.22 L246.47 589.04 L248.99 596.3 L253.24 540.33 L256.2 552.25 L261.07 532.55 L264.74 561.06 L270.81 538.25 L273.82 545.51 L274.44 549.89 L275.07 554.44 L275.7 558.99 L276.32 563.36 L276.95 567.39 L277.58 570.9 L278.17 573.87 L278.76 576.72 L279.35 579.37 L279.94 581.75 L280.53 583.79 L281.12 585.41 L281.64 586.64 L282.15 587.84 L282.67 588.92 L283.18 589.79 L283.7 590.38 L284.22 590.6 L284.73 590.57 L285.25 590.51 L285.77 590.42 L286.28 590.31 L286.8 590.19 L287.32 590.08 L287.88 589.94 L288.45 589.78 L289.02 589.6 L289.59 589.41 L290.16 589.22 L290.72 589.04 L293.25 596.3 L297.49 540.33 L300.46 552.25 L305.33 532.55 L309 561.06 L315.06 538.25 L318.07 545.51 L318.7 549.89 L319.33 554.44 L319.96 558.99 L320.58 563.36 L321.21 567.39 L321.84 570.9 L322.43 573.87 L323.02 576.72 L323.61 579.37 L324.2 581.75 L324.79 583.79 L325.38 585.41 L325.89 586.64 L326.41 587.84 L326.93 588.92 L327.44 589.79 L327.96 590.38 L328.47 590.6 L328.99 590.57 L329.51 590.51 L330.02 590.42 L330.54 590.31 L331.06 590.19 L331.57 590.08 L332.14 589.94 L332.71 589.78 L333.28 589.6 L333.84 589.41 L334.41 589.22 L334.98 589.04 L337.5 596.3 L341.75 540.33 L344.72 552.25 L349.59 532.55 L353.26 561.06 L359.32 538.25 L362.33 545.51 L362.96 549.89 L363.59 554.44 L364.21 558.99 L364.84 563.36 L365.47 567.39 L366.09 570.9 L366.68 573.87 L367.27 576.72 L367.86 579.37 L368.45 581.75 L369.04 583.79 L369.63 585.41 L370.15 586.64 L370.67 587.84 L371.18 588.92 L371.7 589.79 L372.22 590.38 L372.73 590.6 L373.25 590.57 L373.76 590.51 L374.28 590.42 L374.8 590.31 L375.31 590.19 L375.83 590.08 L376.4 589.94 L376.97 589.78 L377.53 589.6 L377.6 589.58" stroke="#8a0000"/>
</g>
<g font-family="Liberation Sans, Arial, sans-serif" font-weight="bold" font-size="17.5" fill="#000">
<text x="67.8" y="714.4" text-anchor="middle">0</text>
<text x="112.06" y="714.4" text-anchor="middle">1</text>
<text x="156.31" y="714.4" text-anchor="middle">2</text>
<text x="200.57" y="714.4" text-anchor="middle">3</text>
<text x="244.83" y="714.4" text-anchor="middle">4</text>
<text x="289.09" y="714.4" text-anchor="middle">5</text>
<text x="333.34" y="714.4" text-anchor="middle">6</text>
<text x="377.6" y="714.4" text-anchor="middle">7</text>
<text x="60" y="696.3" text-anchor="end">6</text>
<text x="60" y="644.48" text-anchor="end">7</text>
<text x="60" y="592.65" text-anchor="end">8</text>
<text x="60" y="540.83" text-anchor="end">9</text>
<text x="60" y="489" text-anchor="end">10</text>
</g>
<text x="222.7" y="735.5" text-anchor="middle" font-family="Liberation Sans, Arial, sans-serif" font-weight="bold" font-size="15.66">Time (Day)</text>
<text transform="translate(33.6 580.75) rotate(-90)" text-anchor="middle" font-family="Liberation Sans, Arial, sans-serif" font-weight="bold" font-size="15.8">Biliary BA/PL Ratio in HD</text>
<text x="222.7" y="433.9" text-anchor="middle" font-family="Liberation Sans, Arial, sans-serif" font-weight="bold" font-size="17.8">Biliary Bile Acid-to-Phospholipid Ratio</text>
<text x="222.7" y="454.8" text-anchor="middle" font-family="Liberation Sans, Arial, sans-serif" font-weight="bold" font-size="17.8">in the Hepatic Duct</text>
<rect x="185.1" y="621.5" width="13.8" height="4.6" fill="#bdbb2a"/>
<text x="206.4" y="629.9" font-family="Liberation Sans, Arial, sans-serif" font-size="16.25">Initial HCO<tspan font-size="11" dy="3.5">3</tspan><tspan font-size="11" dy="-10">-</tspan><tspan dy="6.5">: 25 mM (Baseline)</tspan></text>
<rect x="185.1" y="644.5" width="13.8" height="4.6" fill="#57976a"/>
<text x="206.4" y="652.7" font-family="Liberation Sans, Arial, sans-serif" font-size="16.25">Initial HCO<tspan font-size="11" dy="3.5">3</tspan><tspan font-size="11" dy="-10">-</tspan><tspan dy="6.5">: 45 mM</tspan></text>
<rect x="185.1" y="667.3" width="13.8" height="4.6" fill="#8a0000"/>
<text x="206.4" y="675.4" font-family="Liberation Sans, Arial, sans-serif" font-size="16.25">Initial HCO<tspan font-size="11" dy="3.5">3</tspan><tspan font-size="11" dy="-10">-</tspan><tspan dy="6.5">: 65 mM</tspan></text>
<g stroke="#000" stroke-width="1.8" fill="none" stroke-linecap="square">
<path d="M538 483.2 V690.4 H848"/>
</g>
<g stroke="#000" stroke-width="1.7" fill="none">
<path d="M538 690.4 v5.8 M549.07 690.4 v3.2 M560.14 690.4 v3.2 M571.21 690.4 v3.2 M582.29 690.4 v5.8 M593.36 690.4 v3.2 M604.43 690.4 v3.2 M615.5 690.4 v3.2 M626.57 690.4 v5.8 M637.64 690.4 v3.2 M648.71 690.4 v3.2 M659.79 690.4 v3.2 M670.86 690.4 v5.8 M681.93 690.4 v3.2 M693 690.4 v3.2 M704.07 690.4 v3.2 M715.14 690.4 v5.8 M726.21 690.4 v3.2 M737.29 690.4 v3.2 M748.36 690.4 v3.2 M759.43 690.4 v5.8 M770.5 690.4 v3.2 M781.57 690.4 v3.2 M792.64 690.4 v3.2 M803.71 690.4 v5.8 M814.79 690.4 v3.2 M825.86 690.4 v3.2 M836.93 690.4 v3.2 M848 690.4 v5.8 M538 690.4 h-5.8 M538 673.13 h-3.2 M538 655.87 h-3.2 M538 638.6 h-3.2 M538 621.33 h-5.8 M538 604.07 h-3.2 M538 586.8 h-3.2 M538 569.53 h-3.2 M538 552.27 h-5.8 M538 535 h-3.2 M538 517.73 h-3.2 M538 500.47 h-3.2 M538 483.2 h-5.8"/>
</g>
<g fill="none" stroke-width="4.9" stroke-linejoin="miter" stroke-miterlimit="2.2" stroke-linecap="butt">
<path d="M538 518.56 L848 518.56" stroke="#bdbb2a"/>
<path d="M538 621.68 L848 621.68" stroke="#57976a"/>
<path d="M538 646.47 L848 646.47" stroke="#8a0000"/>
</g>
<g font-family="Liberation Sans, Arial, sans-serif" font-weight="bold" font-size="17.5" fill="#000">
<text x="538" y="714.7" text-anchor="middle">0</text>
<text x="582.29" y="714.7" text-anchor="middle">1</text>
<text x="626.57" y="714.7" text-anchor="middle">2</text>
<text x="670.86" y="714.7" text-anchor="middle">3</text>
<text x="715.14" y="714.7" text-anchor="middle">4</text>
<text x="759.43" y="714.7" text-anchor="middle">5</text>
<text x="803.71" y="714.7" text-anchor="middle">6</text>
<text x="848" y="714.7" text-anchor="middle">7</text>
<text x="530.2" y="696.6" text-anchor="end">0.0</text>
<text x="530.2" y="627.53" text-anchor="end">0.1</text>
<text x="530.2" y="558.47" text-anchor="end">0.2</text>
<text x="530.2" y="489.4" text-anchor="end">0.3</text>
</g>
<text x="693" y="735.8" text-anchor="middle" font-family="Liberation Sans, Arial, sans-serif" font-weight="bold" font-size="15.66">Time (Day)</text>
<text transform="translate(497.1 581.1) rotate(-90)" text-anchor="middle" font-family="Liberation Sans, Arial, sans-serif" font-weight="bold" font-size="15.8">BA Shunting in HD (mL/h)</text>
<text x="693" y="434.3" text-anchor="middle" font-family="Liberation Sans, Arial, sans-serif" font-weight="bold" font-size="17.8">Cholehepatic Shunting of Bile Acids</text>
<text x="693" y="455.2" text-anchor="middle" font-family="Liberation Sans, Arial, sans-serif" font-weight="bold" font-size="17.8">in the Hepatic Duct</text>
<rect x="607" y="549.1" width="13.8" height="4.6" fill="#bdbb2a"/>
<text x="627.8" y="557.7" font-family="Liberation Sans, Arial, sans-serif" font-size="16.25">Initial HCO<tspan font-size="11" dy="3.5">3</tspan><tspan font-size="11" dy="-10">-</tspan><tspan dy="6.5">: 25 mM (Baseline)</tspan></text>
<rect x="607" y="572" width="13.8" height="4.6" fill="#57976a"/>
<text x="627.8" y="580.5" font-family="Liberation Sans, Arial, sans-serif" font-size="16.25">Initial HCO<tspan font-size="11" dy="3.5">3</tspan><tspan font-size="11" dy="-10">-</tspan><tspan dy="6.5">: 45 mM</tspan></text>
<rect x="607" y="595.1" width="13.8" height="4.6" fill="#8a0000"/>
<text x="627.8" y="603.2" font-family="Liberation Sans, Arial, sans-serif" font-size="16.25">Initial HCO<tspan font-size="11" dy="3.5">3</tspan><tspan font-size="11" dy="-10">-</tspan><tspan dy="6.5">: 65 mM</tspan></text>
<g stroke="#000" stroke-width="1.8" fill="none" stroke-linecap="square">
<path d="M993.1 483.2 V690.6 H1303.6"/>
</g>
<g stroke="#000" stroke-width="1.7" fill="none">
<path d="M993.1 690.6 v5.8 M1004.19 690.6 v3.2 M1015.28 690.6 v3.2 M1026.37 690.6 v3.2 M1037.46 690.6 v5.8 M1048.55 690.6 v3.2 M1059.64 690.6 v3.2 M1070.72 690.6 v3.2 M1081.81 690.6 v5.8 M1092.9 690.6 v3.2 M1103.99 690.6 v3.2 M1115.08 690.6 v3.2 M1126.17 690.6 v5.8 M1137.26 690.6 v3.2 M1148.35 690.6 v3.2 M1159.44 690.6 v3.2 M1170.53 690.6 v5.8 M1181.62 690.6 v3.2 M1192.71 690.6 v3.2 M1203.8 690.6 v3.2 M1214.89 690.6 v5.8 M1225.97 690.6 v3.2 M1237.06 690.6 v3.2 M1248.15 690.6 v3.2 M1259.24 690.6 v5.8 M1270.33 690.6 v3.2 M1281.42 690.6 v3.2 M1292.51 690.6 v3.2 M1303.6 690.6 v5.8 M993.1 690.6 h-5.8 M993.1 673.32 h-3.2 M993.1 656.03 h-3.2 M993.1 638.75 h-3.2 M993.1 621.47 h-5.8 M993.1 604.18 h-3.2 M993.1 586.9 h-3.2 M993.1 569.62 h-3.2 M993.1 552.33 h-5.8 M993.1 535.05 h-3.2 M993.1 517.77 h-3.2 M993.1 500.48 h-3.2 M993.1 483.2 h-5.8"/>
</g>
<g fill="none" stroke-width="4.9" stroke-linejoin="miter" stroke-miterlimit="2.2" stroke-linecap="butt">
<path d="M993.1 588.97 L1303.6 588.97" stroke="#bdbb2a"/>
<path d="M993.1 508.78 L1303.6 508.78" stroke="#57976a"/>
<path d="M993.1 489.42 L1303.6 489.42" stroke="#8a0000"/>
</g>
<g font-family="Liberation Sans, Arial, sans-serif" font-weight="bold" font-size="17.5" fill="#000">
<text x="993.1" y="714.9" text-anchor="middle">0</text>
<text x="1037.46" y="714.9" text-anchor="middle">1</text>
<text x="1081.81" y="714.9" text-anchor="middle">2</text>
<text x="1126.17" y="714.9" text-anchor="middle">3</text>
<text x="1170.53" y="714.9" text-anchor="middle">4</text>
<text x="1214.89" y="714.9" text-anchor="middle">5</text>
<text x="1259.24" y="714.9" text-anchor="middle">6</text>
<text x="1303.6" y="714.9" text-anchor="middle">7</text>
<text x="985.3" y="696.8" text-anchor="end">0</text>
<text x="985.3" y="627.67" text-anchor="end">10</text>
<text x="985.3" y="558.53" text-anchor="end">20</text>
<text x="985.3" y="489.4" text-anchor="end">30</text>
</g>
<text x="1148.35" y="736" text-anchor="middle" font-family="Liberation Sans, Arial, sans-serif" font-weight="bold" font-size="15.66">Time (Day)</text>
<text transform="translate(958.9 581.2) rotate(-90)" text-anchor="middle" font-family="Liberation Sans, Arial, sans-serif" font-weight="bold" font-size="15.8">Bile Flow Rate (mL/h)</text>
<text x="1148.35" y="455.2" text-anchor="middle" font-family="Liberation Sans, Arial, sans-serif" font-weight="bold" font-size="17.8">Bile Flow Rate</text>
<rect x="1062.6" y="619.1" width="13.8" height="4.6" fill="#bdbb2a"/>
<text x="1083.6" y="627.7" font-family="Liberation Sans, Arial, sans-serif" font-size="16.25">Initial HCO<tspan font-size="11" dy="3.5">3</tspan><tspan font-size="11" dy="-10">-</tspan><tspan dy="6.5">: 25 mM (Baseline)</tspan></text>
<rect x="1062.6" y="642" width="13.8" height="4.6" fill="#57976a"/>
<text x="1083.6" y="650.5" font-family="Liberation Sans, Arial, sans-serif" font-size="16.25">Initial HCO<tspan font-size="11" dy="3.5">3</tspan><tspan font-size="11" dy="-10">-</tspan><tspan dy="6.5">: 45 mM</tspan></text>
<rect x="1062.6" y="665.1" width="13.8" height="4.6" fill="#8a0000"/>
<text x="1083.6" y="673.2" font-family="Liberation Sans, Arial, sans-serif" font-size="16.25">Initial HCO<tspan font-size="11" dy="3.5">3</tspan><tspan font-size="11" dy="-10">-</tspan><tspan dy="6.5">: 65 mM</tspan></text>
<g stroke="#000" stroke-width="1.8" fill="none" stroke-linecap="square">
<path d="M1451.2 482.9 V690.8 H1762"/>
</g>
<g stroke="#000" stroke-width="1.7" fill="none">
<path d="M1451.2 690.8 v5.8 M1462.3 690.8 v3.2 M1473.4 690.8 v3.2 M1484.5 690.8 v3.2 M1495.6 690.8 v5.8 M1506.7 690.8 v3.2 M1517.8 690.8 v3.2 M1528.9 690.8 v3.2 M1540 690.8 v5.8 M1551.1 690.8 v3.2 M1562.2 690.8 v3.2 M1573.3 690.8 v3.2 M1584.4 690.8 v5.8 M1595.5 690.8 v3.2 M1606.6 690.8 v3.2 M1617.7 690.8 v3.2 M1628.8 690.8 v5.8 M1639.9 690.8 v3.2 M1651 690.8 v3.2 M1662.1 690.8 v3.2 M1673.2 690.8 v5.8 M1684.3 690.8 v3.2 M1695.4 690.8 v3.2 M1706.5 690.8 v3.2 M1717.6 690.8 v5.8 M1728.7 690.8 v3.2 M1739.8 690.8 v3.2 M1750.9 690.8 v3.2 M1762 690.8 v5.8 M1451.2 690.8 h-5.8 M1451.2 677.81 h-3.2 M1451.2 664.81 h-3.2 M1451.2 651.82 h-3.2 M1451.2 638.82 h-5.8 M1451.2 625.83 h-3.2 M1451.2 612.84 h-3.2 M1451.2 599.84 h-3.2 M1451.2 586.85 h-5.8 M1451.2 573.86 h-3.2 M1451.2 560.86 h-3.2 M1451.2 547.87 h-3.2 M1451.2 534.88 h-5.8 M1451.2 521.88 h-3.2 M1451.2 508.89 h-3.2 M1451.2 495.89 h-3.2 M1451.2 482.9 h-5.8"/>
</g>
<g fill="none" stroke-width="4.9" stroke-linejoin="miter" stroke-miterlimit="2.2" stroke-linecap="butt">
<path d="M1451.2 647.14 L1452.98 644.02 L1454.62 560.86 L1456.39 553.59 L1458.08 557.74 L1459.86 607.43 L1461.63 555.66 L1463.41 550.47 L1465.99 560.86 L1469.4 629.26 L1471.18 566.06 L1473.84 568.14 L1474.29 573.97 L1474.73 579.92 L1475.18 585.88 L1475.62 591.71 L1476.06 597.27 L1476.51 602.44 L1476.95 607.44 L1477.4 612.43 L1477.84 617.22 L1478.28 621.62 L1478.73 625.42 L1479.17 628.43 L1479.84 632.11 L1480.5 635.45 L1481.17 638.38 L1481.84 640.83 L1482.5 642.74 L1483.17 644.02 L1483.98 645.14 L1484.8 646.13 L1485.61 646.97 L1486.42 647.62 L1487.24 648.03 L1488.05 648.18 L1489.64 648.12 L1491.23 647.95 L1492.83 647.71 L1494.42 647.44 L1496.01 647.17 L1497.6 646.93 L1499.33 571.26 L1501.11 566.06 L1504.48 607.64 L1506.26 562.94 L1508.92 566.06 L1514.25 630.51 L1515.14 578.53 L1518.69 581.65 L1519.28 586.72 L1519.87 591.84 L1520.46 596.96 L1521.06 602.03 L1521.65 606.99 L1522.24 611.8 L1522.8 616.43 L1523.35 621.28 L1523.9 626.04 L1524.46 630.41 L1525.02 634.08 L1525.57 636.75 L1526.42 639.74 L1527.27 642.38 L1528.12 644.63 L1528.97 646.46 L1529.83 647.83 L1530.68 648.7 L1531.27 649.07 L1531.86 649.36 L1532.45 649.6 L1533.04 649.81 L1533.64 650.02 L1534.23 650.26 L1542.89 648.18 L1543.69 574.38 L1545.51 568.87 L1548.13 612.84 L1550.66 565.44 L1553.32 570.22 L1557.76 632.59 L1560.42 580.3 L1563.09 582.69 L1563.61 587.64 L1564.12 592.7 L1564.64 597.75 L1565.16 602.7 L1565.68 607.42 L1566.2 611.8 L1566.79 616.67 L1567.38 621.58 L1567.97 626.28 L1568.56 630.54 L1569.16 634.11 L1569.75 636.75 L1570.64 639.72 L1571.52 642.35 L1572.41 644.6 L1573.3 646.44 L1574.19 647.82 L1575.08 648.7 L1575.67 649.07 L1576.26 649.36 L1576.85 649.6 L1577.44 649.81 L1578.04 650.02 L1578.63 650.26 L1587.29 648.18 L1588.09 574.38 L1589.91 568.87 L1592.53 612.84 L1595.06 565.44 L1597.72 570.22 L1602.16 632.59 L1604.82 580.3 L1607.49 582.69 L1608.01 587.64 L1608.52 592.7 L1609.04 597.75 L1609.56 602.7 L1610.08 607.42 L1610.6 611.8 L1611.19 616.67 L1611.78 621.58 L1612.37 626.28 L1612.96 630.54 L1613.56 634.11 L1614.15 636.75 L1615.04 639.72 L1615.92 642.35 L1616.81 644.6 L1617.7 646.44 L1618.59 647.82 L1619.48 648.7 L1620.07 649.07 L1620.66 649.36 L1621.25 649.6 L1621.84 649.81 L1622.44 650.02 L1623.03 650.26 L1631.69 648.18 L1632.49 574.38 L1634.31 568.87 L1636.93 612.84 L1639.46 565.44 L1642.12 570.22 L1646.56 632.59 L1649.22 580.3 L1651.89 582.69 L1652.41 587.64 L1652.92 592.7 L1653.44 597.75 L1653.96 602.7 L1654.48 607.42 L1655 611.8 L1655.59 616.67 L1656.18 621.58 L1656.77 626.28 L1657.36 630.54 L1657.96 634.11 L1658.55 636.75 L1659.44 639.72 L1660.32 642.35 L1661.21 644.6 L1662.1 646.44 L1662.99 647.82 L1663.88 648.7 L1664.47 649.07 L1665.06 649.36 L1665.65 649.6 L1666.24 649.81 L1666.84 650.02 L1667.43 650.26 L1676.09 648.18 L1676.89 574.38 L1678.71 568.87 L1681.33 612.84 L1683.86 565.44 L1686.52 570.22 L1690.96 632.59 L1693.62 580.3 L1696.29 582.69 L1696.81 587.64 L1697.32 592.7 L1697.84 597.75 L1698.36 602.7 L1698.88 607.42 L1699.4 611.8 L1699.99 616.67 L1700.58 621.58 L1701.17 626.28 L1701.76 630.54 L1702.36 634.11 L1702.95 636.75 L1703.84 639.72 L1704.72 642.35 L1705.61 644.6 L1706.5 646.44 L1707.39 647.82 L1708.28 648.7 L1708.87 649.07 L1709.46 649.36 L1710.05 649.6 L1710.64 649.81 L1711.24 650.02 L1711.83 650.26 L1720.49 648.18 L1721.29 574.38 L1723.11 568.87 L1725.73 612.84 L1728.26 565.44 L1730.92 570.22 L1735.36 632.59 L1738.02 580.3 L1740.69 582.69 L1741.21 587.64 L1741.72 592.7 L1742.24 597.75 L1742.76 602.7 L1743.28 607.42 L1743.8 611.8 L1744.39 616.67 L1744.98 621.58 L1745.57 626.28 L1746.16 630.54 L1746.76 634.11 L1747.35 636.75 L1748.24 639.72 L1749.12 642.35 L1750.01 644.6 L1750.9 646.44 L1751.79 647.82 L1752.68 648.7 L1753.27 649.07 L1753.86 649.36 L1754.45 649.6 L1755.04 649.81 L1755.64 650.02 L1756.23 650.26 L1762 648.87" stroke="#bdbb2a"/>
<path d="M1451.2 645.06 L1452.98 641.63 L1454.62 557.54 L1456.39 547.87 L1458.08 553.59 L1459.86 586.85 L1461.63 541.74 L1463.41 532.8 L1465.99 545.27 L1469.4 609.2 L1471.18 553.07 L1473.84 556.7 L1474.44 562.69 L1475.03 568.7 L1475.62 574.7 L1476.21 580.69 L1476.8 586.65 L1477.4 592.57 L1477.84 597.15 L1478.28 601.92 L1478.73 606.67 L1479.17 611.2 L1479.62 615.3 L1480.06 618.76 L1480.8 623.75 L1481.54 628.37 L1482.28 632.55 L1483.02 636.21 L1483.76 639.26 L1484.5 641.63 L1485.22 643.56 L1485.94 645.4 L1486.65 647.03 L1487.37 648.34 L1488.09 649.22 L1488.81 649.53 L1490.27 649.48 L1491.74 649.36 L1493.2 649.18 L1494.67 648.98 L1496.13 648.77 L1497.6 648.6 L1499.33 572.4 L1501.11 568.04 L1504.48 606.6 L1506.26 560.13 L1508.92 563.98 L1514.25 628.43 L1515.14 576.77 L1518.69 580.3 L1519.28 585.94 L1519.87 591.69 L1520.46 597.43 L1521.06 603.07 L1521.65 608.49 L1522.24 613.57 L1522.8 618.22 L1523.35 622.91 L1523.9 627.43 L1524.46 631.6 L1525.02 635.22 L1525.57 638.1 L1526.42 641.75 L1527.27 645.15 L1528.12 648.15 L1528.97 650.62 L1529.83 652.41 L1530.68 653.38 L1531.27 653.69 L1531.86 653.92 L1532.45 654.11 L1533.04 654.28 L1533.64 654.44 L1534.23 654.63 L1542.89 652.34 L1543.69 578.53 L1545.51 575 L1548.13 615.33 L1550.66 568.04 L1553.32 573.34 L1557.76 635.5 L1560.42 581.96 L1563.09 585.5 L1563.51 590.32 L1563.93 595.31 L1564.35 600.29 L1564.78 605.11 L1565.2 609.59 L1565.62 613.57 L1566.2 618.57 L1566.79 623.34 L1567.37 627.79 L1567.96 631.81 L1568.54 635.28 L1569.13 638.1 L1570.01 641.72 L1570.89 645.07 L1571.77 648.04 L1572.65 650.5 L1573.53 652.32 L1574.41 653.38 L1574.97 653.73 L1575.52 654 L1576.08 654.22 L1576.63 654.42 L1577.18 654.61 L1577.74 654.83 L1587.29 652.34 L1588.09 578.53 L1589.91 575 L1592.53 615.33 L1595.06 568.04 L1597.72 573.34 L1602.16 635.5 L1604.82 581.96 L1607.49 585.5 L1607.91 590.32 L1608.33 595.31 L1608.75 600.29 L1609.18 605.11 L1609.6 609.59 L1610.02 613.57 L1610.6 618.57 L1611.19 623.34 L1611.77 627.79 L1612.36 631.81 L1612.94 635.28 L1613.53 638.1 L1614.41 641.72 L1615.29 645.07 L1616.17 648.04 L1617.05 650.5 L1617.93 652.32 L1618.81 653.38 L1619.37 653.73 L1619.92 654 L1620.47 654.22 L1621.03 654.42 L1621.59 654.61 L1622.14 654.83 L1631.69 652.34 L1632.49 578.53 L1634.31 575 L1636.93 615.33 L1639.46 568.04 L1642.12 573.34 L1646.56 635.5 L1649.22 581.96 L1651.89 585.5 L1652.31 590.32 L1652.73 595.31 L1653.15 600.29 L1653.58 605.11 L1654 609.59 L1654.42 613.57 L1655 618.57 L1655.59 623.34 L1656.17 627.79 L1656.76 631.81 L1657.34 635.28 L1657.93 638.1 L1658.81 641.72 L1659.69 645.07 L1660.57 648.04 L1661.45 650.5 L1662.33 652.32 L1663.21 653.38 L1663.77 653.73 L1664.32 654 L1664.88 654.22 L1665.43 654.42 L1665.98 654.61 L1666.54 654.83 L1676.09 652.34 L1676.89 578.53 L1678.71 575 L1681.33 615.33 L1683.86 568.04 L1686.52 573.34 L1690.96 635.5 L1693.62 581.96 L1696.29 585.5 L1696.71 590.32 L1697.13 595.31 L1697.55 600.29 L1697.98 605.11 L1698.4 609.59 L1698.82 613.57 L1699.4 618.57 L1699.99 623.34 L1700.57 627.79 L1701.16 631.81 L1701.74 635.28 L1702.33 638.1 L1703.21 641.72 L1704.09 645.07 L1704.97 648.04 L1705.85 650.5 L1706.73 652.32 L1707.61 653.38 L1708.16 653.73 L1708.72 654 L1709.28 654.22 L1709.83 654.42 L1710.38 654.61 L1710.94 654.83 L1720.49 652.34 L1721.29 578.53 L1723.11 575 L1725.73 615.33 L1728.26 568.04 L1730.92 573.34 L1735.36 635.5 L1738.02 581.96 L1740.69 585.5 L1741.11 590.32 L1741.53 595.31 L1741.95 600.29 L1742.38 605.11 L1742.8 609.59 L1743.22 613.57 L1743.8 618.57 L1744.39 623.34 L1744.97 627.79 L1745.56 631.81 L1746.14 635.28 L1746.73 638.1 L1747.61 641.72 L1748.49 645.07 L1749.37 648.04 L1750.25 650.5 L1751.13 652.32 L1752.01 653.38 L1752.57 653.73 L1753.12 654 L1753.67 654.22 L1754.23 654.42 L1754.78 654.61 L1755.34 654.83 L1762 653.09" stroke="#57976a"/>
<path d="M1451.2 645.06 L1452.98 641.63 L1454.62 557.54 L1456.39 547.87 L1458.08 553.59 L1459.86 583.73 L1461.63 541.74 L1463.41 532.8 L1465.99 545.27 L1469.4 606.6 L1471.18 553.07 L1473.84 556.7 L1474.44 562.69 L1475.03 568.7 L1475.62 574.7 L1476.21 580.69 L1476.8 586.65 L1477.4 592.57 L1477.84 597.15 L1478.28 601.92 L1478.73 606.67 L1479.17 611.2 L1479.62 615.3 L1480.06 618.76 L1480.8 623.75 L1481.54 628.37 L1482.28 632.55 L1483.02 636.21 L1483.76 639.26 L1484.5 641.63 L1485.22 643.56 L1485.94 645.4 L1486.65 647.03 L1487.37 648.34 L1488.09 649.22 L1488.81 649.53 L1490.27 649.48 L1491.74 649.36 L1493.2 649.18 L1494.67 648.98 L1496.13 648.77 L1497.6 648.6 L1499.33 572.4 L1501.11 568.04 L1504.48 606.6 L1506.26 560.13 L1508.92 563.98 L1514.25 628.43 L1515.14 576.77 L1518.69 580.3 L1519.28 585.94 L1519.87 591.69 L1520.46 597.43 L1521.06 603.07 L1521.65 608.49 L1522.24 613.57 L1522.8 618.22 L1523.35 622.91 L1523.9 627.43 L1524.46 631.6 L1525.02 635.22 L1525.57 638.1 L1526.42 641.75 L1527.27 645.15 L1528.12 648.15 L1528.97 650.62 L1529.83 652.41 L1530.68 653.38 L1531.27 653.69 L1531.86 653.92 L1532.45 654.11 L1533.04 654.28 L1533.64 654.44 L1534.23 654.63 L1542.89 652.34 L1543.69 578.53 L1545.51 575 L1548.13 615.33 L1550.66 568.04 L1553.32 573.34 L1557.76 635.5 L1560.42 581.96 L1563.09 585.5 L1563.51 590.32 L1563.93 595.31 L1564.35 600.29 L1564.78 605.11 L1565.2 609.59 L1565.62 613.57 L1566.2 618.57 L1566.79 623.34 L1567.37 627.79 L1567.96 631.81 L1568.54 635.28 L1569.13 638.1 L1570.01 641.72 L1570.89 645.07 L1571.77 648.04 L1572.65 650.5 L1573.53 652.32 L1574.41 653.38 L1574.97 653.73 L1575.52 654 L1576.08 654.22 L1576.63 654.42 L1577.18 654.61 L1577.74 654.83 L1587.29 652.34 L1588.09 578.53 L1589.91 575 L1592.53 615.33 L1595.06 568.04 L1597.72 573.34 L1602.16 635.5 L1604.82 581.96 L1607.49 585.5 L1607.91 590.32 L1608.33 595.31 L1608.75 600.29 L1609.18 605.11 L1609.6 609.59 L1610.02 613.57 L1610.6 618.57 L1611.19 623.34 L1611.77 627.79 L1612.36 631.81 L1612.94 635.28 L1613.53 638.1 L1614.41 641.72 L1615.29 645.07 L1616.17 648.04 L1617.05 650.5 L1617.93 652.32 L1618.81 653.38 L1619.37 653.73 L1619.92 654 L1620.47 654.22 L1621.03 654.42 L1621.59 654.61 L1622.14 654.83 L1631.69 652.34 L1632.49 578.53 L1634.31 575 L1636.93 615.33 L1639.46 568.04 L1642.12 573.34 L1646.56 635.5 L1649.22 581.96 L1651.89 585.5 L1652.31 590.32 L1652.73 595.31 L1653.15 600.29 L1653.58 605.11 L1654 609.59 L1654.42 613.57 L1655 618.57 L1655.59 623.34 L1656.17 627.79 L1656.76 631.81 L1657.34 635.28 L1657.93 638.1 L1658.81 641.72 L1659.69 645.07 L1660.57 648.04 L1661.45 650.5 L1662.33 652.32 L1663.21 653.38 L1663.77 653.73 L1664.32 654 L1664.88 654.22 L1665.43 654.42 L1665.98 654.61 L1666.54 654.83 L1676.09 652.34 L1676.89 578.53 L1678.71 575 L1681.33 615.33 L1683.86 568.04 L1686.52 573.34 L1690.96 635.5 L1693.62 581.96 L1696.29 585.5 L1696.71 590.32 L1697.13 595.31 L1697.55 600.29 L1697.98 605.11 L1698.4 609.59 L1698.82 613.57 L1699.4 618.57 L1699.99 623.34 L1700.57 627.79 L1701.16 631.81 L1701.74 635.28 L1702.33 638.1 L1703.21 641.72 L1704.09 645.07 L1704.97 648.04 L1705.85 650.5 L1706.73 652.32 L1707.61 653.38 L1708.16 653.73 L1708.72 654 L1709.28 654.22 L1709.83 654.42 L1710.38 654.61 L1710.94 654.83 L1720.49 652.34 L1721.29 578.53 L1723.11 575 L1725.73 615.33 L1728.26 568.04 L1730.92 573.34 L1735.36 635.5 L1738.02 581.96 L1740.69 585.5 L1741.11 590.32 L1741.53 595.31 L1741.95 600.29 L1742.38 605.11 L1742.8 609.59 L1743.22 613.57 L1743.8 618.57 L1744.39 623.34 L1744.97 627.79 L1745.56 631.81 L1746.14 635.28 L1746.73 638.1 L1747.61 641.72 L1748.49 645.07 L1749.37 648.04 L1750.25 650.5 L1751.13 652.32 L1752.01 653.38 L1752.57 653.73 L1753.12 654 L1753.67 654.22 L1754.23 654.42 L1754.78 654.61 L1755.34 654.83 L1762 653.09" stroke="#8a0000"/>
</g>
<g font-family="Liberation Sans, Arial, sans-serif" font-weight="bold" font-size="17.5" fill="#000">
<text x="1451.2" y="715.1" text-anchor="middle">0</text>
<text x="1495.6" y="715.1" text-anchor="middle">1</text>
<text x="1540" y="715.1" text-anchor="middle">2</text>
<text x="1584.4" y="715.1" text-anchor="middle">3</text>
<text x="1628.8" y="715.1" text-anchor="middle">4</text>
<text x="1673.2" y="715.1" text-anchor="middle">5</text>
<text x="1717.6" y="715.1" text-anchor="middle">6</text>
<text x="1762" y="715.1" text-anchor="middle">7</text>
<text x="1443.4" y="697" text-anchor="end">0</text>
<text x="1443.4" y="645.02" text-anchor="end">50</text>
<text x="1443.4" y="593.05" text-anchor="end">100</text>
<text x="1443.4" y="541.08" text-anchor="end">150</text>
<text x="1443.4" y="489.1" text-anchor="end">200</text>
</g>
<text x="1606.6" y="736.2" text-anchor="middle" font-family="Liberation Sans, Arial, sans-serif" font-weight="bold" font-size="15.66">Time (Day)</text>
<text transform="translate(1406.7 581.15) rotate(-90)" text-anchor="middle" font-family="Liberation Sans, Arial, sans-serif" font-weight="bold" font-size="15.8">Liver Total BA Concentration (μM)</text>
<text x="1606.6" y="454.9" text-anchor="middle" font-family="Liberation Sans, Arial, sans-serif" font-weight="bold" font-size="17.8">Hepatic Total Bile Acid Concentrations</text>
<rect x="1521" y="484.1" width="13.8" height="4.6" fill="#bdbb2a"/>
<text x="1541.5" y="492.7" font-family="Liberation Sans, Arial, sans-serif" font-size="16.25">Initial HCO<tspan font-size="11" dy="3.5">3</tspan><tspan font-size="11" dy="-10">-</tspan><tspan dy="6.5">: 25 mM (Baseline)</tspan></text>
<rect x="1521" y="507" width="13.8" height="4.6" fill="#57976a"/>
<text x="1541.5" y="515.5" font-family="Liberation Sans, Arial, sans-serif" font-size="16.25">Initial HCO<tspan font-size="11" dy="3.5">3</tspan><tspan font-size="11" dy="-10">-</tspan><tspan dy="6.5">: 45 mM</tspan></text>
<rect x="1521" y="530.1" width="13.8" height="4.6" fill="#8a0000"/>
<text x="1541.5" y="538.2" font-family="Liberation Sans, Arial, sans-serif" font-size="16.25">Initial HCO<tspan font-size="11" dy="3.5">3</tspan><tspan font-size="11" dy="-10">-</tspan><tspan dy="6.5">: 65 mM</tspan></text>
</svg>
</body></html>
